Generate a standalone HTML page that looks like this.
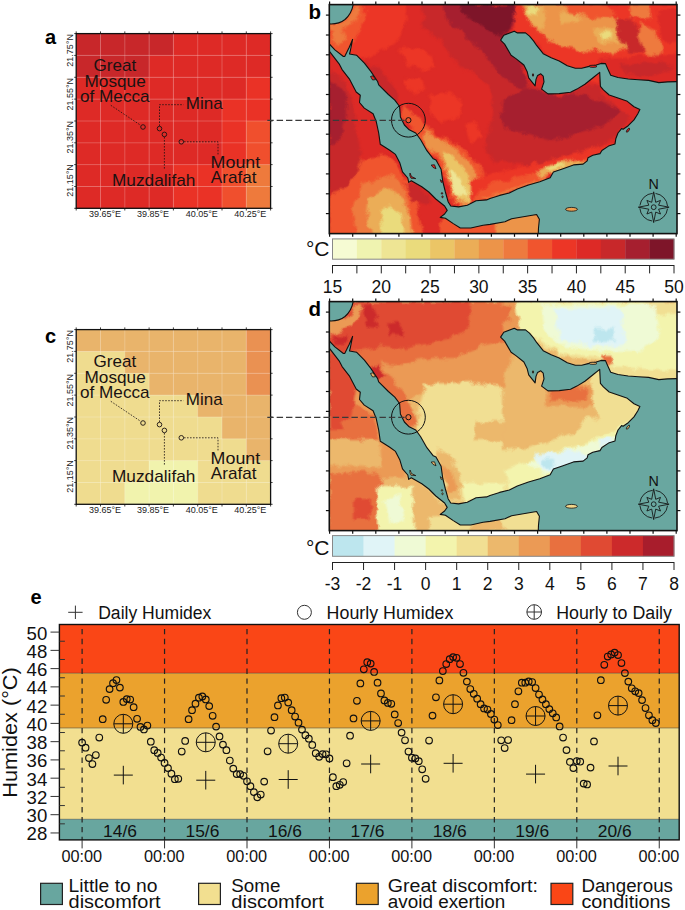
<!DOCTYPE html><html><head><meta charset="utf-8"><style>html,body{margin:0;padding:0;background:#fff;}svg{display:block;font-family:"Liberation Sans", sans-serif;}</style></head><body>
<svg width="685" height="910" viewBox="0 0 685 910">
<defs><filter id="blur1" x="-5%" y="-5%" width="110%" height="110%" color-interpolation-filters="sRGB"><feTurbulence type="fractalNoise" baseFrequency="0.09" numOctaves="3" seed="7" result="n"/><feGaussianBlur in="SourceGraphic" stdDeviation="1.3" result="b"/><feDisplacementMap in="b" in2="n" scale="9" xChannelSelector="R" yChannelSelector="G"/></filter></defs>
<rect width="685" height="910" fill="#fff"/>
<rect x="76.20" y="33.60" width="24.60" height="22.14" fill="#c8272a"/>
<rect x="100.50" y="33.60" width="24.60" height="22.14" fill="#c8272a"/>
<rect x="124.80" y="33.60" width="24.60" height="22.14" fill="#c8272a"/>
<rect x="149.10" y="33.60" width="24.60" height="22.14" fill="#c8272a"/>
<rect x="173.40" y="33.60" width="24.60" height="22.14" fill="#de2a26"/>
<rect x="197.70" y="33.60" width="24.60" height="22.14" fill="#de2a26"/>
<rect x="222.00" y="33.60" width="24.60" height="22.14" fill="#de2a26"/>
<rect x="246.30" y="33.60" width="24.60" height="22.14" fill="#de2a26"/>
<rect x="76.20" y="55.44" width="24.60" height="22.14" fill="#c8272a"/>
<rect x="100.50" y="55.44" width="24.60" height="22.14" fill="#c8272a"/>
<rect x="124.80" y="55.44" width="24.60" height="22.14" fill="#c8272a"/>
<rect x="149.10" y="55.44" width="24.60" height="22.14" fill="#de2a26"/>
<rect x="173.40" y="55.44" width="24.60" height="22.14" fill="#de2a26"/>
<rect x="197.70" y="55.44" width="24.60" height="22.14" fill="#de2a26"/>
<rect x="222.00" y="55.44" width="24.60" height="22.14" fill="#de2a26"/>
<rect x="246.30" y="55.44" width="24.60" height="22.14" fill="#de2a26"/>
<rect x="76.20" y="77.28" width="24.60" height="22.14" fill="#de2a26"/>
<rect x="100.50" y="77.28" width="24.60" height="22.14" fill="#de2a26"/>
<rect x="124.80" y="77.28" width="24.60" height="22.14" fill="#de2a26"/>
<rect x="149.10" y="77.28" width="24.60" height="22.14" fill="#de2a26"/>
<rect x="173.40" y="77.28" width="24.60" height="22.14" fill="#de2a26"/>
<rect x="197.70" y="77.28" width="24.60" height="22.14" fill="#de2a26"/>
<rect x="222.00" y="77.28" width="24.60" height="22.14" fill="#de2a26"/>
<rect x="246.30" y="77.28" width="24.60" height="22.14" fill="#ea3226"/>
<rect x="76.20" y="99.11" width="24.60" height="22.14" fill="#de2a26"/>
<rect x="100.50" y="99.11" width="24.60" height="22.14" fill="#de2a26"/>
<rect x="124.80" y="99.11" width="24.60" height="22.14" fill="#de2a26"/>
<rect x="149.10" y="99.11" width="24.60" height="22.14" fill="#de2a26"/>
<rect x="173.40" y="99.11" width="24.60" height="22.14" fill="#de2a26"/>
<rect x="197.70" y="99.11" width="24.60" height="22.14" fill="#de2a26"/>
<rect x="222.00" y="99.11" width="24.60" height="22.14" fill="#ea3226"/>
<rect x="246.30" y="99.11" width="24.60" height="22.14" fill="#ea3226"/>
<rect x="76.20" y="120.95" width="24.60" height="22.14" fill="#de2a26"/>
<rect x="100.50" y="120.95" width="24.60" height="22.14" fill="#de2a26"/>
<rect x="124.80" y="120.95" width="24.60" height="22.14" fill="#de2a26"/>
<rect x="149.10" y="120.95" width="24.60" height="22.14" fill="#de2a26"/>
<rect x="173.40" y="120.95" width="24.60" height="22.14" fill="#de2a26"/>
<rect x="197.70" y="120.95" width="24.60" height="22.14" fill="#de2a26"/>
<rect x="222.00" y="120.95" width="24.60" height="22.14" fill="#ea3226"/>
<rect x="246.30" y="120.95" width="24.60" height="22.14" fill="#f04f2d"/>
<rect x="76.20" y="142.79" width="24.60" height="22.14" fill="#de2a26"/>
<rect x="100.50" y="142.79" width="24.60" height="22.14" fill="#de2a26"/>
<rect x="124.80" y="142.79" width="24.60" height="22.14" fill="#de2a26"/>
<rect x="149.10" y="142.79" width="24.60" height="22.14" fill="#de2a26"/>
<rect x="173.40" y="142.79" width="24.60" height="22.14" fill="#de2a26"/>
<rect x="197.70" y="142.79" width="24.60" height="22.14" fill="#de2a26"/>
<rect x="222.00" y="142.79" width="24.60" height="22.14" fill="#ea3226"/>
<rect x="246.30" y="142.79" width="24.60" height="22.14" fill="#f04f2d"/>
<rect x="76.20" y="164.62" width="24.60" height="22.14" fill="#de2a26"/>
<rect x="100.50" y="164.62" width="24.60" height="22.14" fill="#de2a26"/>
<rect x="124.80" y="164.62" width="24.60" height="22.14" fill="#de2a26"/>
<rect x="149.10" y="164.62" width="24.60" height="22.14" fill="#de2a26"/>
<rect x="173.40" y="164.62" width="24.60" height="22.14" fill="#ea3226"/>
<rect x="197.70" y="164.62" width="24.60" height="22.14" fill="#ea3226"/>
<rect x="222.00" y="164.62" width="24.60" height="22.14" fill="#f04f2d"/>
<rect x="246.30" y="164.62" width="24.60" height="22.14" fill="#ee7a3c"/>
<rect x="76.20" y="186.46" width="24.60" height="22.14" fill="#de2a26"/>
<rect x="100.50" y="186.46" width="24.60" height="22.14" fill="#de2a26"/>
<rect x="124.80" y="186.46" width="24.60" height="22.14" fill="#de2a26"/>
<rect x="149.10" y="186.46" width="24.60" height="22.14" fill="#de2a26"/>
<rect x="173.40" y="186.46" width="24.60" height="22.14" fill="#ea3226"/>
<rect x="197.70" y="186.46" width="24.60" height="22.14" fill="#ea3226"/>
<rect x="222.00" y="186.46" width="24.60" height="22.14" fill="#f04f2d"/>
<rect x="246.30" y="186.46" width="24.60" height="22.14" fill="#ee7a3c"/>
<line x1="100.5" y1="33.6" x2="100.5" y2="208.3" stroke="#fff" stroke-opacity="0.28" stroke-width="0.8"/>
<line x1="76.2" y1="55.4" x2="270.6" y2="55.4" stroke="#fff" stroke-opacity="0.28" stroke-width="0.8"/>
<line x1="124.8" y1="33.6" x2="124.8" y2="208.3" stroke="#fff" stroke-opacity="0.28" stroke-width="0.8"/>
<line x1="76.2" y1="77.3" x2="270.6" y2="77.3" stroke="#fff" stroke-opacity="0.28" stroke-width="0.8"/>
<line x1="149.1" y1="33.6" x2="149.1" y2="208.3" stroke="#fff" stroke-opacity="0.28" stroke-width="0.8"/>
<line x1="76.2" y1="99.1" x2="270.6" y2="99.1" stroke="#fff" stroke-opacity="0.28" stroke-width="0.8"/>
<line x1="173.4" y1="33.6" x2="173.4" y2="208.3" stroke="#fff" stroke-opacity="0.28" stroke-width="0.8"/>
<line x1="76.2" y1="121.0" x2="270.6" y2="121.0" stroke="#fff" stroke-opacity="0.28" stroke-width="0.8"/>
<line x1="197.7" y1="33.6" x2="197.7" y2="208.3" stroke="#fff" stroke-opacity="0.28" stroke-width="0.8"/>
<line x1="76.2" y1="142.8" x2="270.6" y2="142.8" stroke="#fff" stroke-opacity="0.28" stroke-width="0.8"/>
<line x1="222.0" y1="33.6" x2="222.0" y2="208.3" stroke="#fff" stroke-opacity="0.28" stroke-width="0.8"/>
<line x1="76.2" y1="164.6" x2="270.6" y2="164.6" stroke="#fff" stroke-opacity="0.28" stroke-width="0.8"/>
<line x1="246.3" y1="33.6" x2="246.3" y2="208.3" stroke="#fff" stroke-opacity="0.28" stroke-width="0.8"/>
<line x1="76.2" y1="186.5" x2="270.6" y2="186.5" stroke="#fff" stroke-opacity="0.28" stroke-width="0.8"/>
<rect x="76.2" y="33.6" width="194.40000000000003" height="174.70000000000002" fill="none" stroke="#111" stroke-width="1.3"/>
<line x1="76.2" y1="31.400000000000002" x2="76.2" y2="33.6" stroke="#111" stroke-width="0.8"/>
<line x1="76.2" y1="208.3" x2="76.2" y2="210.5" stroke="#111" stroke-width="0.8"/>
<line x1="74.2" y1="33.6" x2="76.2" y2="33.6" stroke="#111" stroke-width="0.8"/>
<line x1="270.6" y1="33.6" x2="272.6" y2="33.6" stroke="#111" stroke-width="0.8"/>
<line x1="100.5" y1="31.400000000000002" x2="100.5" y2="33.6" stroke="#111" stroke-width="0.8"/>
<line x1="100.5" y1="208.3" x2="100.5" y2="210.5" stroke="#111" stroke-width="0.8"/>
<line x1="74.2" y1="55.4" x2="76.2" y2="55.4" stroke="#111" stroke-width="0.8"/>
<line x1="270.6" y1="55.4" x2="272.6" y2="55.4" stroke="#111" stroke-width="0.8"/>
<line x1="124.8" y1="31.400000000000002" x2="124.8" y2="33.6" stroke="#111" stroke-width="0.8"/>
<line x1="124.8" y1="208.3" x2="124.8" y2="210.5" stroke="#111" stroke-width="0.8"/>
<line x1="74.2" y1="77.3" x2="76.2" y2="77.3" stroke="#111" stroke-width="0.8"/>
<line x1="270.6" y1="77.3" x2="272.6" y2="77.3" stroke="#111" stroke-width="0.8"/>
<line x1="149.1" y1="31.400000000000002" x2="149.1" y2="33.6" stroke="#111" stroke-width="0.8"/>
<line x1="149.1" y1="208.3" x2="149.1" y2="210.5" stroke="#111" stroke-width="0.8"/>
<line x1="74.2" y1="99.1" x2="76.2" y2="99.1" stroke="#111" stroke-width="0.8"/>
<line x1="270.6" y1="99.1" x2="272.6" y2="99.1" stroke="#111" stroke-width="0.8"/>
<line x1="173.4" y1="31.400000000000002" x2="173.4" y2="33.6" stroke="#111" stroke-width="0.8"/>
<line x1="173.4" y1="208.3" x2="173.4" y2="210.5" stroke="#111" stroke-width="0.8"/>
<line x1="74.2" y1="121.0" x2="76.2" y2="121.0" stroke="#111" stroke-width="0.8"/>
<line x1="270.6" y1="121.0" x2="272.6" y2="121.0" stroke="#111" stroke-width="0.8"/>
<line x1="197.7" y1="31.400000000000002" x2="197.7" y2="33.6" stroke="#111" stroke-width="0.8"/>
<line x1="197.7" y1="208.3" x2="197.7" y2="210.5" stroke="#111" stroke-width="0.8"/>
<line x1="74.2" y1="142.8" x2="76.2" y2="142.8" stroke="#111" stroke-width="0.8"/>
<line x1="270.6" y1="142.8" x2="272.6" y2="142.8" stroke="#111" stroke-width="0.8"/>
<line x1="222.0" y1="31.400000000000002" x2="222.0" y2="33.6" stroke="#111" stroke-width="0.8"/>
<line x1="222.0" y1="208.3" x2="222.0" y2="210.5" stroke="#111" stroke-width="0.8"/>
<line x1="74.2" y1="164.6" x2="76.2" y2="164.6" stroke="#111" stroke-width="0.8"/>
<line x1="270.6" y1="164.6" x2="272.6" y2="164.6" stroke="#111" stroke-width="0.8"/>
<line x1="246.3" y1="31.400000000000002" x2="246.3" y2="33.6" stroke="#111" stroke-width="0.8"/>
<line x1="246.3" y1="208.3" x2="246.3" y2="210.5" stroke="#111" stroke-width="0.8"/>
<line x1="74.2" y1="186.5" x2="76.2" y2="186.5" stroke="#111" stroke-width="0.8"/>
<line x1="270.6" y1="186.5" x2="272.6" y2="186.5" stroke="#111" stroke-width="0.8"/>
<line x1="270.6" y1="31.400000000000002" x2="270.6" y2="33.6" stroke="#111" stroke-width="0.8"/>
<line x1="270.6" y1="208.3" x2="270.6" y2="210.5" stroke="#111" stroke-width="0.8"/>
<line x1="74.2" y1="208.3" x2="76.2" y2="208.3" stroke="#111" stroke-width="0.8"/>
<line x1="270.6" y1="208.3" x2="272.6" y2="208.3" stroke="#111" stroke-width="0.8"/>
<text x="105" y="217.2" font-size="9" text-anchor="middle" fill="#222">39.65°E</text>
<text x="153" y="217.2" font-size="9" text-anchor="middle" fill="#222">39.85°E</text>
<text x="201.8" y="217.2" font-size="9" text-anchor="middle" fill="#222">40.05°E</text>
<text x="250.2" y="217.2" font-size="9" text-anchor="middle" fill="#222">40.25°E</text>
<text transform="translate(72.6,50.4) rotate(-90)" font-size="9" text-anchor="middle" fill="#222">21.75°N</text>
<text transform="translate(72.6,94.2) rotate(-90)" font-size="9" text-anchor="middle" fill="#222">21.55°N</text>
<text transform="translate(72.6,137.3) rotate(-90)" font-size="9" text-anchor="middle" fill="#222">21.35°N</text>
<text transform="translate(72.6,180.5) rotate(-90)" font-size="9" text-anchor="middle" fill="#222">21.15°N</text>
<text x="93.4" y="71.4" textLength="42.8" font-size="16.2" fill="#1a1212" lengthAdjust="spacingAndGlyphs">Great</text>
<text x="84.5" y="86.6" textLength="61.2" font-size="16.2" fill="#1a1212" lengthAdjust="spacingAndGlyphs">Mosque</text>
<text x="80.0" y="101.6" textLength="69.6" font-size="16.2" fill="#1a1212" lengthAdjust="spacingAndGlyphs">of Mecca</text>
<text x="185.8" y="109.4" textLength="36.8" font-size="16.2" fill="#1a1212" lengthAdjust="spacingAndGlyphs">Mina</text>
<text x="112.0" y="185.9" textLength="83.4" font-size="16.2" fill="#1a1212" lengthAdjust="spacingAndGlyphs">Muzdalifah</text>
<text x="210.6" y="167.5" textLength="49.6" font-size="16.2" fill="#1a1212" lengthAdjust="spacingAndGlyphs">Mount</text>
<text x="210.8" y="182.8" textLength="45.6" font-size="16.2" fill="#1a1212" lengthAdjust="spacingAndGlyphs">Arafat</text>
<path d="M110.8,105.3 L140.5,125.2" stroke="#1a1212" stroke-width="0.8" stroke-dasharray="1.6 1.4" fill="none"/>
<path d="M159.5,126 L159.5,104.7 L183.4,104.7" stroke="#1a1212" stroke-width="0.8" stroke-dasharray="1.6 1.4" fill="none"/>
<path d="M164.4,137 L164.4,169" stroke="#1a1212" stroke-width="0.8" stroke-dasharray="1.6 1.4" fill="none"/>
<path d="M184,141.8 L218,141.8 L218,155.2" stroke="#1a1212" stroke-width="0.8" stroke-dasharray="1.6 1.4" fill="none"/>
<circle cx="143" cy="127" r="2.3" fill="none" stroke="#1a1212" stroke-width="0.9"/>
<circle cx="159.5" cy="128.6" r="2.3" fill="none" stroke="#1a1212" stroke-width="0.9"/>
<circle cx="164.4" cy="134.4" r="2.3" fill="none" stroke="#1a1212" stroke-width="0.9"/>
<circle cx="181.3" cy="141.8" r="2.3" fill="none" stroke="#1a1212" stroke-width="0.9"/>
<text x="45" y="43.7" font-size="20" font-weight="bold" fill="#000">a</text>
<rect x="76.20" y="329.60" width="24.60" height="22.14" fill="#e9b46b"/>
<rect x="100.50" y="329.60" width="24.60" height="22.14" fill="#e9b46b"/>
<rect x="124.80" y="329.60" width="24.60" height="22.14" fill="#e9b46b"/>
<rect x="149.10" y="329.60" width="24.60" height="22.14" fill="#e9b46b"/>
<rect x="173.40" y="329.60" width="24.60" height="22.14" fill="#e9b46b"/>
<rect x="197.70" y="329.60" width="24.60" height="22.14" fill="#e9b46b"/>
<rect x="222.00" y="329.60" width="24.60" height="22.14" fill="#e9b46b"/>
<rect x="246.30" y="329.60" width="24.60" height="22.14" fill="#ea9152"/>
<rect x="76.20" y="351.44" width="24.60" height="22.14" fill="#efdc8f"/>
<rect x="100.50" y="351.44" width="24.60" height="22.14" fill="#efdc8f"/>
<rect x="124.80" y="351.44" width="24.60" height="22.14" fill="#e9b46b"/>
<rect x="149.10" y="351.44" width="24.60" height="22.14" fill="#e9b46b"/>
<rect x="173.40" y="351.44" width="24.60" height="22.14" fill="#e9b46b"/>
<rect x="197.70" y="351.44" width="24.60" height="22.14" fill="#e9b46b"/>
<rect x="222.00" y="351.44" width="24.60" height="22.14" fill="#e9b46b"/>
<rect x="246.30" y="351.44" width="24.60" height="22.14" fill="#ea9152"/>
<rect x="76.20" y="373.28" width="24.60" height="22.14" fill="#efdc8f"/>
<rect x="100.50" y="373.28" width="24.60" height="22.14" fill="#efdc8f"/>
<rect x="124.80" y="373.28" width="24.60" height="22.14" fill="#efdc8f"/>
<rect x="149.10" y="373.28" width="24.60" height="22.14" fill="#e9b46b"/>
<rect x="173.40" y="373.28" width="24.60" height="22.14" fill="#e9b46b"/>
<rect x="197.70" y="373.28" width="24.60" height="22.14" fill="#e9b46b"/>
<rect x="222.00" y="373.28" width="24.60" height="22.14" fill="#e9b46b"/>
<rect x="246.30" y="373.28" width="24.60" height="22.14" fill="#ea9152"/>
<rect x="76.20" y="395.11" width="24.60" height="22.14" fill="#efdc8f"/>
<rect x="100.50" y="395.11" width="24.60" height="22.14" fill="#efdc8f"/>
<rect x="124.80" y="395.11" width="24.60" height="22.14" fill="#efdc8f"/>
<rect x="149.10" y="395.11" width="24.60" height="22.14" fill="#efdc8f"/>
<rect x="173.40" y="395.11" width="24.60" height="22.14" fill="#efdc8f"/>
<rect x="197.70" y="395.11" width="24.60" height="22.14" fill="#e9b46b"/>
<rect x="222.00" y="395.11" width="24.60" height="22.14" fill="#e9b46b"/>
<rect x="246.30" y="395.11" width="24.60" height="22.14" fill="#e9b46b"/>
<rect x="76.20" y="416.95" width="24.60" height="22.14" fill="#efdc8f"/>
<rect x="100.50" y="416.95" width="24.60" height="22.14" fill="#efdc8f"/>
<rect x="124.80" y="416.95" width="24.60" height="22.14" fill="#efdc8f"/>
<rect x="149.10" y="416.95" width="24.60" height="22.14" fill="#efdc8f"/>
<rect x="173.40" y="416.95" width="24.60" height="22.14" fill="#efdc8f"/>
<rect x="197.70" y="416.95" width="24.60" height="22.14" fill="#efdc8f"/>
<rect x="222.00" y="416.95" width="24.60" height="22.14" fill="#e9b46b"/>
<rect x="246.30" y="416.95" width="24.60" height="22.14" fill="#e9b46b"/>
<rect x="76.20" y="438.79" width="24.60" height="22.14" fill="#efdc8f"/>
<rect x="100.50" y="438.79" width="24.60" height="22.14" fill="#efdc8f"/>
<rect x="124.80" y="438.79" width="24.60" height="22.14" fill="#efdc8f"/>
<rect x="149.10" y="438.79" width="24.60" height="22.14" fill="#efdc8f"/>
<rect x="173.40" y="438.79" width="24.60" height="22.14" fill="#efdc8f"/>
<rect x="197.70" y="438.79" width="24.60" height="22.14" fill="#efdc8f"/>
<rect x="222.00" y="438.79" width="24.60" height="22.14" fill="#efdc8f"/>
<rect x="246.30" y="438.79" width="24.60" height="22.14" fill="#e9b46b"/>
<rect x="76.20" y="460.62" width="24.60" height="22.14" fill="#efdc8f"/>
<rect x="100.50" y="460.62" width="24.60" height="22.14" fill="#efdc8f"/>
<rect x="124.80" y="460.62" width="24.60" height="22.14" fill="#efdc8f"/>
<rect x="149.10" y="460.62" width="24.60" height="22.14" fill="#f1f3ad"/>
<rect x="173.40" y="460.62" width="24.60" height="22.14" fill="#f1f3ad"/>
<rect x="197.70" y="460.62" width="24.60" height="22.14" fill="#efdc8f"/>
<rect x="222.00" y="460.62" width="24.60" height="22.14" fill="#efdc8f"/>
<rect x="246.30" y="460.62" width="24.60" height="22.14" fill="#efdc8f"/>
<rect x="76.20" y="482.46" width="24.60" height="22.14" fill="#efdc8f"/>
<rect x="100.50" y="482.46" width="24.60" height="22.14" fill="#efdc8f"/>
<rect x="124.80" y="482.46" width="24.60" height="22.14" fill="#f1f3ad"/>
<rect x="149.10" y="482.46" width="24.60" height="22.14" fill="#f1f3ad"/>
<rect x="173.40" y="482.46" width="24.60" height="22.14" fill="#f1f3ad"/>
<rect x="197.70" y="482.46" width="24.60" height="22.14" fill="#efdc8f"/>
<rect x="222.00" y="482.46" width="24.60" height="22.14" fill="#efdc8f"/>
<rect x="246.30" y="482.46" width="24.60" height="22.14" fill="#efdc8f"/>
<line x1="100.5" y1="329.6" x2="100.5" y2="504.3" stroke="#fff" stroke-opacity="0.28" stroke-width="0.8"/>
<line x1="76.2" y1="351.4" x2="270.6" y2="351.4" stroke="#fff" stroke-opacity="0.28" stroke-width="0.8"/>
<line x1="124.8" y1="329.6" x2="124.8" y2="504.3" stroke="#fff" stroke-opacity="0.28" stroke-width="0.8"/>
<line x1="76.2" y1="373.3" x2="270.6" y2="373.3" stroke="#fff" stroke-opacity="0.28" stroke-width="0.8"/>
<line x1="149.1" y1="329.6" x2="149.1" y2="504.3" stroke="#fff" stroke-opacity="0.28" stroke-width="0.8"/>
<line x1="76.2" y1="395.1" x2="270.6" y2="395.1" stroke="#fff" stroke-opacity="0.28" stroke-width="0.8"/>
<line x1="173.4" y1="329.6" x2="173.4" y2="504.3" stroke="#fff" stroke-opacity="0.28" stroke-width="0.8"/>
<line x1="76.2" y1="417.0" x2="270.6" y2="417.0" stroke="#fff" stroke-opacity="0.28" stroke-width="0.8"/>
<line x1="197.7" y1="329.6" x2="197.7" y2="504.3" stroke="#fff" stroke-opacity="0.28" stroke-width="0.8"/>
<line x1="76.2" y1="438.8" x2="270.6" y2="438.8" stroke="#fff" stroke-opacity="0.28" stroke-width="0.8"/>
<line x1="222.0" y1="329.6" x2="222.0" y2="504.3" stroke="#fff" stroke-opacity="0.28" stroke-width="0.8"/>
<line x1="76.2" y1="460.6" x2="270.6" y2="460.6" stroke="#fff" stroke-opacity="0.28" stroke-width="0.8"/>
<line x1="246.3" y1="329.6" x2="246.3" y2="504.3" stroke="#fff" stroke-opacity="0.28" stroke-width="0.8"/>
<line x1="76.2" y1="482.5" x2="270.6" y2="482.5" stroke="#fff" stroke-opacity="0.28" stroke-width="0.8"/>
<rect x="76.2" y="329.6" width="194.40000000000003" height="174.70000000000002" fill="none" stroke="#111" stroke-width="1.3"/>
<line x1="76.2" y1="327.40000000000003" x2="76.2" y2="329.6" stroke="#111" stroke-width="0.8"/>
<line x1="76.2" y1="504.30000000000007" x2="76.2" y2="506.50000000000006" stroke="#111" stroke-width="0.8"/>
<line x1="74.2" y1="329.6" x2="76.2" y2="329.6" stroke="#111" stroke-width="0.8"/>
<line x1="270.6" y1="329.6" x2="272.6" y2="329.6" stroke="#111" stroke-width="0.8"/>
<line x1="100.5" y1="327.40000000000003" x2="100.5" y2="329.6" stroke="#111" stroke-width="0.8"/>
<line x1="100.5" y1="504.30000000000007" x2="100.5" y2="506.50000000000006" stroke="#111" stroke-width="0.8"/>
<line x1="74.2" y1="351.4" x2="76.2" y2="351.4" stroke="#111" stroke-width="0.8"/>
<line x1="270.6" y1="351.4" x2="272.6" y2="351.4" stroke="#111" stroke-width="0.8"/>
<line x1="124.8" y1="327.40000000000003" x2="124.8" y2="329.6" stroke="#111" stroke-width="0.8"/>
<line x1="124.8" y1="504.30000000000007" x2="124.8" y2="506.50000000000006" stroke="#111" stroke-width="0.8"/>
<line x1="74.2" y1="373.3" x2="76.2" y2="373.3" stroke="#111" stroke-width="0.8"/>
<line x1="270.6" y1="373.3" x2="272.6" y2="373.3" stroke="#111" stroke-width="0.8"/>
<line x1="149.1" y1="327.40000000000003" x2="149.1" y2="329.6" stroke="#111" stroke-width="0.8"/>
<line x1="149.1" y1="504.30000000000007" x2="149.1" y2="506.50000000000006" stroke="#111" stroke-width="0.8"/>
<line x1="74.2" y1="395.1" x2="76.2" y2="395.1" stroke="#111" stroke-width="0.8"/>
<line x1="270.6" y1="395.1" x2="272.6" y2="395.1" stroke="#111" stroke-width="0.8"/>
<line x1="173.4" y1="327.40000000000003" x2="173.4" y2="329.6" stroke="#111" stroke-width="0.8"/>
<line x1="173.4" y1="504.30000000000007" x2="173.4" y2="506.50000000000006" stroke="#111" stroke-width="0.8"/>
<line x1="74.2" y1="417.0" x2="76.2" y2="417.0" stroke="#111" stroke-width="0.8"/>
<line x1="270.6" y1="417.0" x2="272.6" y2="417.0" stroke="#111" stroke-width="0.8"/>
<line x1="197.7" y1="327.40000000000003" x2="197.7" y2="329.6" stroke="#111" stroke-width="0.8"/>
<line x1="197.7" y1="504.30000000000007" x2="197.7" y2="506.50000000000006" stroke="#111" stroke-width="0.8"/>
<line x1="74.2" y1="438.8" x2="76.2" y2="438.8" stroke="#111" stroke-width="0.8"/>
<line x1="270.6" y1="438.8" x2="272.6" y2="438.8" stroke="#111" stroke-width="0.8"/>
<line x1="222.0" y1="327.40000000000003" x2="222.0" y2="329.6" stroke="#111" stroke-width="0.8"/>
<line x1="222.0" y1="504.30000000000007" x2="222.0" y2="506.50000000000006" stroke="#111" stroke-width="0.8"/>
<line x1="74.2" y1="460.6" x2="76.2" y2="460.6" stroke="#111" stroke-width="0.8"/>
<line x1="270.6" y1="460.6" x2="272.6" y2="460.6" stroke="#111" stroke-width="0.8"/>
<line x1="246.3" y1="327.40000000000003" x2="246.3" y2="329.6" stroke="#111" stroke-width="0.8"/>
<line x1="246.3" y1="504.30000000000007" x2="246.3" y2="506.50000000000006" stroke="#111" stroke-width="0.8"/>
<line x1="74.2" y1="482.5" x2="76.2" y2="482.5" stroke="#111" stroke-width="0.8"/>
<line x1="270.6" y1="482.5" x2="272.6" y2="482.5" stroke="#111" stroke-width="0.8"/>
<line x1="270.6" y1="327.40000000000003" x2="270.6" y2="329.6" stroke="#111" stroke-width="0.8"/>
<line x1="270.6" y1="504.30000000000007" x2="270.6" y2="506.50000000000006" stroke="#111" stroke-width="0.8"/>
<line x1="74.2" y1="504.3" x2="76.2" y2="504.3" stroke="#111" stroke-width="0.8"/>
<line x1="270.6" y1="504.3" x2="272.6" y2="504.3" stroke="#111" stroke-width="0.8"/>
<text x="105" y="513.2" font-size="9" text-anchor="middle" fill="#222">39.65°E</text>
<text x="153" y="513.2" font-size="9" text-anchor="middle" fill="#222">39.85°E</text>
<text x="201.8" y="513.2" font-size="9" text-anchor="middle" fill="#222">40.05°E</text>
<text x="250.2" y="513.2" font-size="9" text-anchor="middle" fill="#222">40.25°E</text>
<text transform="translate(72.6,346.4) rotate(-90)" font-size="9" text-anchor="middle" fill="#222">21.75°N</text>
<text transform="translate(72.6,390.2) rotate(-90)" font-size="9" text-anchor="middle" fill="#222">21.55°N</text>
<text transform="translate(72.6,433.3) rotate(-90)" font-size="9" text-anchor="middle" fill="#222">21.35°N</text>
<text transform="translate(72.6,476.5) rotate(-90)" font-size="9" text-anchor="middle" fill="#222">21.15°N</text>
<text x="93.4" y="367.4" textLength="42.8" font-size="16.2" fill="#1a1212" lengthAdjust="spacingAndGlyphs">Great</text>
<text x="84.5" y="382.6" textLength="61.2" font-size="16.2" fill="#1a1212" lengthAdjust="spacingAndGlyphs">Mosque</text>
<text x="80.0" y="397.6" textLength="69.6" font-size="16.2" fill="#1a1212" lengthAdjust="spacingAndGlyphs">of Mecca</text>
<text x="185.8" y="405.4" textLength="36.8" font-size="16.2" fill="#1a1212" lengthAdjust="spacingAndGlyphs">Mina</text>
<text x="112.0" y="481.9" textLength="83.4" font-size="16.2" fill="#1a1212" lengthAdjust="spacingAndGlyphs">Muzdalifah</text>
<text x="210.6" y="463.5" textLength="49.6" font-size="16.2" fill="#1a1212" lengthAdjust="spacingAndGlyphs">Mount</text>
<text x="210.8" y="478.8" textLength="45.6" font-size="16.2" fill="#1a1212" lengthAdjust="spacingAndGlyphs">Arafat</text>
<path d="M110.8,401.3 L140.5,421.2" stroke="#1a1212" stroke-width="0.8" stroke-dasharray="1.6 1.4" fill="none"/>
<path d="M159.5,422 L159.5,400.7 L183.4,400.7" stroke="#1a1212" stroke-width="0.8" stroke-dasharray="1.6 1.4" fill="none"/>
<path d="M164.4,433 L164.4,465" stroke="#1a1212" stroke-width="0.8" stroke-dasharray="1.6 1.4" fill="none"/>
<path d="M184,437.8 L218,437.8 L218,451.2" stroke="#1a1212" stroke-width="0.8" stroke-dasharray="1.6 1.4" fill="none"/>
<circle cx="143" cy="423" r="2.3" fill="none" stroke="#1a1212" stroke-width="0.9"/>
<circle cx="159.5" cy="424.6" r="2.3" fill="none" stroke="#1a1212" stroke-width="0.9"/>
<circle cx="164.4" cy="430.4" r="2.3" fill="none" stroke="#1a1212" stroke-width="0.9"/>
<circle cx="181.3" cy="437.8" r="2.3" fill="none" stroke="#1a1212" stroke-width="0.9"/>
<text x="45" y="342.9" font-size="20" font-weight="bold" fill="#000">c</text>
<clipPath id="clipb"><rect x="329.3" y="4.6" width="347.7" height="229.0"/></clipPath>
<g clip-path="url(#clipb)"><rect x="329.3" y="4.6" width="347.7" height="229.0" fill="#dd2a26"/>
<g filter="url(#blur1)">
<polygon points="329.0,20.0 345.0,18.0 352.0,4.0 405.0,4.0 408.0,20.0 400.0,38.0 385.0,50.0 365.0,58.0 345.0,60.0 329.0,52.0" fill="#ec3626"/>
<polygon points="329.0,24.0 342.0,22.0 350.0,12.0 354.0,4.0 364.0,4.0 366.0,15.0 360.0,30.0 353.0,42.0 346.0,57.0 335.0,52.0 329.0,46.0" fill="#f0552e"/>
<polygon points="333.0,30.0 340.0,27.0 345.0,35.0 340.0,45.0 333.0,42.0" fill="#ee7a3e"/>
<polygon points="329.0,22.0 340.0,23.0 350.0,16.0 355.0,6.0 360.0,6.0 356.0,20.0 345.0,28.0 333.0,31.0 329.0,31.0" fill="#ee7a3e"/>
<polygon points="354.0,6.0 360.0,6.0 360.0,14.0 355.0,18.0" fill="#ee7a3e"/>
<polygon points="398.0,50.0 415.0,48.0 432.0,56.0 436.0,66.0 425.0,70.0 408.0,66.0" fill="#ec3626"/>
<polygon points="430.0,95.0 450.0,92.0 462.0,102.0 458.0,118.0 440.0,122.0 428.0,110.0" fill="#ec3626"/>
<polygon points="405.0,80.0 420.0,78.0 425.0,90.0 412.0,95.0" fill="#ec3626"/>
<polygon points="465.0,125.0 478.0,122.0 482.0,138.0 470.0,142.0" fill="#ec3626"/>
<polygon points="421.0,4.0 423.0,25.0 440.0,40.0 451.0,55.0 460.0,68.0 478.0,76.0 490.0,84.0 494.0,100.0 490.0,125.0 485.0,150.0 495.0,161.0 520.0,164.0 545.0,164.0 570.0,158.0 590.0,150.0 610.0,140.0 625.0,125.0 640.0,110.0 625.0,98.0 610.0,90.0 600.0,85.0 585.0,86.0 560.0,95.0 540.0,92.0 530.0,80.0 520.0,62.0 505.0,45.0 500.0,38.0 512.0,30.0 520.0,20.0 520.0,4.0" fill="#c8282a"/>
<polygon points="362.0,62.0 376.0,66.0 390.0,82.0 398.0,98.0 392.0,102.0 382.0,92.0 368.0,78.0" fill="#c8282a"/>
<polygon points="441.0,4.0 449.0,20.0 461.0,31.0 472.0,41.0 482.0,51.0 488.0,61.0 498.0,72.0 510.0,82.0 522.0,90.0 530.0,88.0 528.0,75.0 518.0,60.0 505.0,45.0 500.0,38.0 510.0,32.0 520.0,22.0 520.0,4.0" fill="#a61f2f"/>
<polygon points="501.0,118.0 503.0,100.0 515.0,92.0 530.0,89.0 551.0,94.0 577.0,95.0 600.0,101.0 621.0,110.0 612.0,119.0 603.0,127.0 571.0,135.0 551.0,141.0 528.0,135.0 504.0,127.0" fill="#a61f2f"/>
<polygon points="461.0,4.0 514.0,4.0 513.0,20.0 511.0,31.0 503.0,35.0 498.0,34.0 486.0,29.0 472.0,20.0 461.0,12.0" fill="#7e1529"/>
<polygon points="515.0,4.0 680.0,4.0 680.0,84.0 600.0,84.0 560.0,66.0 530.0,38.0 515.0,30.0" fill="#ec3626"/>
<polygon points="521.0,4.0 565.0,4.0 600.0,12.0 616.0,18.0 625.0,30.0 628.0,50.0 610.0,53.0 582.0,51.0 562.0,47.0 547.0,39.0 532.0,26.0" fill="#ec9449"/>
<polygon points="523.0,4.0 543.0,4.0 546.0,20.0 540.0,29.0 530.0,22.0" fill="#ebad57"/>
<polygon points="558.0,13.0 578.0,12.0 580.0,22.0 562.0,23.0" fill="#ebad57"/>
<polygon points="594.0,28.0 616.0,28.0 619.0,43.0 597.0,43.0" fill="#ebad57"/>
<polygon points="527.0,6.0 538.0,6.0 537.0,16.0 529.0,14.0" fill="#eadb7c"/>
<polygon points="600.0,31.0 612.0,32.0 611.0,40.0 602.0,39.0" fill="#eadb7c"/>
<polygon points="560.0,4.0 605.0,4.0 615.0,12.0 612.0,19.0 590.0,17.0 570.0,11.0" fill="#f0552e"/>
<polygon points="616.0,18.0 630.0,18.0 645.0,40.0 642.0,53.0 630.0,53.0 620.0,40.0" fill="#c8282a"/>
<polygon points="629.0,4.0 650.0,4.0 650.0,19.0 632.0,19.0" fill="#ee7a3e"/>
<polygon points="640.0,23.0 655.0,30.0 662.0,50.0 660.0,57.0 645.0,53.0 638.0,35.0" fill="#ee7a3e"/>
<polygon points="656.0,9.0 680.0,9.0 680.0,42.0 662.0,42.0" fill="#dd2a26"/>
<polygon points="600.0,58.0 640.0,56.0 680.0,55.0 680.0,84.0 600.0,84.0" fill="#dd2a26"/>
<polygon points="618.0,64.0 660.0,62.0 676.0,68.0 652.0,76.0 626.0,74.0" fill="#c8282a"/>
<polygon points="600.0,86.0 620.0,96.0 640.0,108.0 634.0,120.0 622.0,112.0 610.0,101.0 602.0,95.0" fill="#dd2a26"/>
<polygon points="404.0,105.0 417.0,116.0 432.0,130.0 447.0,140.0 464.0,150.0 480.0,165.0 487.0,185.0 490.0,200.0 462.0,208.0 453.0,200.0 446.0,180.0 436.0,160.0 424.0,145.0 411.0,132.0 403.0,118.0" fill="#f0552e"/>
<polygon points="425.0,130.0 441.0,140.0 457.0,150.0 473.0,165.0 481.0,185.0 483.0,200.0 461.0,206.0 452.0,190.0 446.0,170.0 436.0,153.0 425.0,143.0" fill="#ec9449"/>
<polygon points="442.0,150.0 458.0,160.0 470.0,178.0 474.0,200.0 458.0,202.0 451.0,185.0 446.0,168.0" fill="#ebc566"/>
<polygon points="449.0,170.0 462.0,178.0 468.0,196.0 456.0,197.0 451.0,185.0" fill="#eee594"/>
<polygon points="470.0,180.0 495.0,172.0 520.0,167.0 540.0,163.0 560.0,158.0 585.0,150.0 600.0,146.0 612.0,143.0 615.0,152.0 590.0,162.0 560.0,172.0 530.0,184.0 500.0,196.0 470.0,208.0" fill="#ec3626"/>
<polygon points="478.0,190.0 500.0,182.0 522.0,176.0 540.0,172.0 555.0,168.0 575.0,162.0 590.0,158.0 592.0,165.0 560.0,172.0 530.0,184.0 500.0,196.0 470.0,208.0" fill="#f0552e"/>
<polygon points="480.0,198.0 505.0,190.0 528.0,183.0 548.0,176.0 548.0,181.0 522.0,188.0 492.0,199.0" fill="#ee7a3e"/>
<polygon points="536.0,170.0 558.0,163.0 586.0,158.0 584.0,165.0 555.0,172.0 540.0,178.0" fill="#ebad57"/>
<polygon points="545.0,168.0 560.0,163.0 565.0,167.0 550.0,172.0" fill="#eadb7c"/>
<polygon points="329.0,180.0 360.0,160.0 385.0,155.0 400.0,170.0 408.0,182.0 415.0,200.0 425.0,240.0 329.0,240.0" fill="#f0552e"/>
<polygon points="329.0,70.0 345.0,80.0 352.0,100.0 356.0,130.0 362.0,160.0 352.0,180.0 340.0,192.0 329.0,195.0" fill="#c8282a"/>
<polygon points="329.0,80.0 339.0,86.0 346.0,97.0 346.0,115.0 342.0,134.0 336.0,144.0 329.0,146.0" fill="#a61f2f"/>
<polygon points="362.0,185.0 385.0,175.0 400.0,180.0 408.0,200.0 414.0,240.0 358.0,240.0 352.0,210.0" fill="#ee7a3e"/>
<polygon points="368.0,198.0 390.0,188.0 404.0,200.0 410.0,220.0 412.0,240.0 372.0,240.0 366.0,215.0" fill="#ebad57"/>
<polygon points="380.0,212.0 392.0,206.0 402.0,216.0 404.0,240.0 384.0,240.0" fill="#eadb7c"/>
<polygon points="405.0,184.0 420.0,186.0 431.0,196.0 428.0,206.0 412.0,202.0" fill="#c8282a"/>
<polygon points="441.0,214.0 540.0,210.0 545.0,240.0 441.0,240.0" fill="#f0552e"/>
<polygon points="495.0,220.0 538.0,214.0 545.0,240.0 495.0,240.0" fill="#ec9449"/>
</g></g>
<g clip-path="url(#clipb)"><g transform="translate(0,0)">
<path d="M329.3,44.0 L334.9,49.9 L343.4,56.5 L344.7,56.5 L349.3,47.3 L352.6,39.4 L350.5,50.0 L349.5,54.0 L356.5,55.2 L364.4,63.1 L371.0,71.6 L377.6,81.5 L378.7,84.8 L388.4,94.5 L394.8,100.1 L399.6,106.5 L400.4,117.0 L404.4,125.0 L409.2,129.8 L415.7,133.0 L420.5,139.5 L426.9,150.7 L433.3,158.8 L436.0,160.0 L441.1,169.3 L442.8,181.5 L445.4,192.0 L448.1,201.7 L450.7,206.0 L458.6,206.9 L467.3,205.2 L476.1,200.8 L486.6,199.9 L490.0,198.6 L499.6,195.4 L509.3,193.0 L517.3,189.0 L528.5,185.0 L539.8,181.7 L550.2,177.7 L553.4,172.1 L562.3,168.9 L573.5,164.9 L583.1,164.1 L587.2,160.9 L588.0,157.7 L592.8,155.3 L600.0,153.6 L601.9,150.5 L608.5,146.1 L615.0,143.9 L615.8,138.8 L618.0,133.0 L621.6,128.6 L623.1,129.3 L628.2,125.7 L634.0,119.9 L637.7,114.0 L639.9,109.6 L634.0,106.7 L626.7,100.9 L618.0,98.0 L609.2,95.0 L603.4,89.9 L600.4,86.3 L599.7,72.4 L593.0,77.8 L584.9,84.3 L576.9,89.1 L570.5,92.3 L559.2,93.6 L548.0,93.9 L541.6,89.1 L544.0,81.8 L543.2,76.2 L540.8,73.8 L537.6,75.4 L536.0,79.4 L535.1,85.9 L528.7,77.8 L527.1,71.4 L523.9,65.0 L515.9,58.6 L511.1,55.3 L504.6,44.1 L500.6,40.1 L503.8,35.3 L514.3,31.2 L517.5,32.9 L525.5,32.9 L529.5,36.1 L533.5,40.9 L536.8,45.7 L543.2,53.7 L551.2,57.8 L559.2,61.0 L567.3,65.8 L575.3,68.2 L581.7,68.2 L588.1,66.6 L596.2,65.0 L601.0,63.4 L605.5,63.6 L607.7,68.8 L610.7,75.3 L618.0,77.5 L628.2,79.0 L638.4,79.7 L648.6,80.4 L658.8,82.6 L667.6,81.9 L680.0,81.6 L680.0,240.0 L538.0,240.0 L538.5,228.0 L539.4,219.2 L536.6,214.5 L511.6,218.7 L505.0,221.8 L490.1,224.4 L483.1,225.3 L470.8,228.0 L460.3,228.0 L453.3,223.6 L445.4,218.3 L440.2,217.4 L444.6,214.0 L447.2,210.4 L444.6,206.0 L435.8,199.0 L428.8,192.0 L421.8,186.8 L411.3,180.7 L408.7,182.4 L407.8,178.0 L402.5,171.9 L399.9,163.1 L395.5,154.4 L389.4,150.0 L380.3,144.3 L378.7,133.0 L376.3,121.8 L373.1,113.8 L364.3,108.1 L359.5,102.5 L360.3,95.3 L356.2,92.0 L349.3,78.8 L342.1,69.6 L339.5,64.4 L329.3,51.2 L320.0,51.2 L320.0,44.0 Z" fill="#69a7a0" stroke="#111" stroke-width="1.1" stroke-linejoin="round"/>
<path d="M320,0 L353.4,0 L353.2,4.6 C352.3,9.5 349.6,15.5 345,19.5 C340.5,23 334.5,24.2 329.3,23.9 L320,23.9 Z" fill="#69a7a0" stroke="#111" stroke-width="1.1"/>
<ellipse cx="571.5" cy="209.3" rx="6" ry="1.9" fill="#f0a050" stroke="#111" stroke-width="0.8"/>
<g fill="#dd2a26" stroke="#111" stroke-width="0.8"><path d="M431.2,165 L434.5,164.8 L436,168.8 L433,167.4 Z"/><path d="M410,173 L411.5,176.5 L415.8,178.6 L411,178.2 L409.8,175.5 Z"/><path d="M440.3,179.6 L442.6,181.8 L441.2,182.4 Z"/><ellipse cx="442" cy="193.4" rx="0.7" ry="0.8"/><ellipse cx="442.5" cy="196.8" rx="0.7" ry="0.9"/><path d="M370.5,76.5 L373,75.8 L375.6,79.6 L372.6,80 Z"/><ellipse cx="593" cy="66.3" rx="4" ry="1.1"/><ellipse cx="628" cy="130.2" rx="0.9" ry="2.4" transform="rotate(35 628 130.2)"/><ellipse cx="533" cy="75" rx="0.6" ry="1.4"/></g>
</g></g>
<circle cx="408.4" cy="120.2" r="16.9" fill="none" stroke="#111" stroke-width="1"/>
<circle cx="408.4" cy="120.2" r="2.6" fill="none" stroke="#111" stroke-width="1"/>
<rect x="329.3" y="4.6" width="347.7" height="229.0" fill="none" stroke="#111" stroke-width="1.6"/>
<g stroke="#111" stroke-width="1.2"><line x1="329.6" y1="1.4" x2="329.6" y2="4.6"/>
<line x1="329.6" y1="233.6" x2="329.6" y2="236.8"/>
<line x1="352.7" y1="1.4" x2="352.7" y2="4.6"/>
<line x1="352.7" y1="233.6" x2="352.7" y2="236.8"/>
<line x1="375.8" y1="1.4" x2="375.8" y2="4.6"/>
<line x1="375.8" y1="233.6" x2="375.8" y2="236.8"/>
<line x1="398.9" y1="1.4" x2="398.9" y2="4.6"/>
<line x1="398.9" y1="233.6" x2="398.9" y2="236.8"/>
<line x1="422.0" y1="1.4" x2="422.0" y2="4.6"/>
<line x1="422.0" y1="233.6" x2="422.0" y2="236.8"/>
<line x1="445.2" y1="1.4" x2="445.2" y2="4.6"/>
<line x1="445.2" y1="233.6" x2="445.2" y2="236.8"/>
<line x1="468.3" y1="1.4" x2="468.3" y2="4.6"/>
<line x1="468.3" y1="233.6" x2="468.3" y2="236.8"/>
<line x1="491.4" y1="1.4" x2="491.4" y2="4.6"/>
<line x1="491.4" y1="233.6" x2="491.4" y2="236.8"/>
<line x1="514.5" y1="1.4" x2="514.5" y2="4.6"/>
<line x1="514.5" y1="233.6" x2="514.5" y2="236.8"/>
<line x1="537.6" y1="1.4" x2="537.6" y2="4.6"/>
<line x1="537.6" y1="233.6" x2="537.6" y2="236.8"/>
<line x1="560.7" y1="1.4" x2="560.7" y2="4.6"/>
<line x1="560.7" y1="233.6" x2="560.7" y2="236.8"/>
<line x1="583.8" y1="1.4" x2="583.8" y2="4.6"/>
<line x1="583.8" y1="233.6" x2="583.8" y2="236.8"/>
<line x1="606.9" y1="1.4" x2="606.9" y2="4.6"/>
<line x1="606.9" y1="233.6" x2="606.9" y2="236.8"/>
<line x1="630.0" y1="1.4" x2="630.0" y2="4.6"/>
<line x1="630.0" y1="233.6" x2="630.0" y2="236.8"/>
<line x1="653.1" y1="1.4" x2="653.1" y2="4.6"/>
<line x1="653.1" y1="233.6" x2="653.1" y2="236.8"/>
<line x1="676.2" y1="1.4" x2="676.2" y2="4.6"/>
<line x1="676.2" y1="233.6" x2="676.2" y2="236.8"/>
<line x1="325.90000000000003" y1="15.1" x2="329.3" y2="15.1"/>
<line x1="677.0" y1="15.1" x2="680.4" y2="15.1"/>
<line x1="325.90000000000003" y1="35.0" x2="329.3" y2="35.0"/>
<line x1="677.0" y1="35.0" x2="680.4" y2="35.0"/>
<line x1="325.90000000000003" y1="54.8" x2="329.3" y2="54.8"/>
<line x1="677.0" y1="54.8" x2="680.4" y2="54.8"/>
<line x1="325.90000000000003" y1="74.7" x2="329.3" y2="74.7"/>
<line x1="677.0" y1="74.7" x2="680.4" y2="74.7"/>
<line x1="325.90000000000003" y1="94.5" x2="329.3" y2="94.5"/>
<line x1="677.0" y1="94.5" x2="680.4" y2="94.5"/>
<line x1="325.90000000000003" y1="114.3" x2="329.3" y2="114.3"/>
<line x1="677.0" y1="114.3" x2="680.4" y2="114.3"/>
<line x1="325.90000000000003" y1="134.2" x2="329.3" y2="134.2"/>
<line x1="677.0" y1="134.2" x2="680.4" y2="134.2"/>
<line x1="325.90000000000003" y1="154.1" x2="329.3" y2="154.1"/>
<line x1="677.0" y1="154.1" x2="680.4" y2="154.1"/>
<line x1="325.90000000000003" y1="173.9" x2="329.3" y2="173.9"/>
<line x1="677.0" y1="173.9" x2="680.4" y2="173.9"/>
<line x1="325.90000000000003" y1="193.8" x2="329.3" y2="193.8"/>
<line x1="677.0" y1="193.8" x2="680.4" y2="193.8"/>
<line x1="325.90000000000003" y1="213.6" x2="329.3" y2="213.6"/>
<line x1="677.0" y1="213.6" x2="680.4" y2="213.6"/></g>
<g stroke="#111" stroke-width="0.85" fill="none">
<circle cx="653.7" cy="207.2" r="13.9" stroke-dasharray="18.83 3" stroke-dashoffset="20.33"/>
<polygon points="653.7,191.8 655.7,202.3 660.5,200.4 658.6,205.2 669.1,207.2 658.6,209.2 660.5,214.0 655.7,212.1 653.7,222.6 651.7,212.1 646.9,214.0 648.8,209.2 638.3,207.2 648.8,205.2 646.9,200.4 651.7,202.3" stroke-linejoin="miter"/>
<circle cx="653.7" cy="207.2" r="2.4"/>
</g>
<text x="653.7" y="188.6" font-size="14.3" text-anchor="middle" fill="#111">N</text>
<text x="308.4" y="19.2" font-size="20.5" font-weight="bold" fill="#000">b</text>
<clipPath id="clipd"><rect x="329.3" y="301.6" width="347.7" height="229.0"/></clipPath>
<g clip-path="url(#clipd)"><rect x="329.3" y="301.6" width="347.7" height="229.0" fill="#ecb86c"/>
<g filter="url(#blur1)">
<polygon points="329.0,301.0 515.0,301.0 515.0,345.0 503.0,386.0 470.0,386.0 430.0,388.0 405.0,402.0 380.0,440.0 329.0,440.0" fill="#eb9a55"/>
<polygon points="329.0,301.0 505.0,301.0 503.0,341.0 481.0,346.0 456.0,358.0 431.0,358.0 405.0,364.0 392.0,366.0 367.0,358.0 355.0,370.0 350.0,400.0 372.0,415.0 380.0,440.0 329.0,440.0" fill="#e8703f"/>
<polygon points="329.0,301.0 471.0,301.0 469.0,328.0 451.0,338.0 431.0,343.0 405.0,348.0 380.0,346.0 354.0,351.0 347.0,370.0 345.0,400.0 340.0,420.0 344.0,430.0 329.0,430.0" fill="#e04a33"/>
<polygon points="329.0,301.0 350.0,330.0 357.0,360.0 356.0,390.0 350.0,420.0 329.0,420.0" fill="#e04a33"/>
<polygon points="362.0,352.0 380.0,362.0 398.0,385.0 412.0,408.0 418.0,425.0 408.0,428.0 396.0,410.0 382.0,390.0 366.0,372.0" fill="#e8703f"/>
<polygon points="329.0,319.0 340.0,320.0 350.0,314.0 356.0,304.0 362.0,304.0 358.0,318.0 348.0,328.0 335.0,334.0 329.0,334.0" fill="#eb9a55"/>
<polygon points="362.0,304.0 372.0,303.0 377.0,316.0 376.0,328.0 368.0,327.0 364.0,316.0" fill="#cc2a2b"/>
<polygon points="386.0,324.0 398.0,322.0 406.0,330.0 404.0,336.0 390.0,335.0" fill="#cc2a2b"/>
<polygon points="333.0,336.0 350.0,337.0 348.0,344.0 334.0,344.0" fill="#cc2a2b"/>
<polygon points="369.0,367.0 380.0,366.0 386.0,375.0 378.0,380.0 370.0,377.0" fill="#cc2a2b"/>
<polygon points="425.0,384.0 470.0,382.0 503.0,388.0 503.0,451.0 528.0,448.0 554.0,440.0 579.0,430.0 587.0,415.0 600.0,420.0 625.0,420.0 640.0,410.0 645.0,440.0 600.0,470.0 540.0,485.0 505.0,495.0 470.0,500.0 440.0,502.0 420.0,480.0 416.0,440.0 420.0,405.0" fill="#f1df93"/>
<polygon points="474.0,422.0 503.0,422.0 503.0,440.0 474.0,440.0" fill="#ecb86c"/>
<polygon points="505.0,470.0 540.0,455.0 580.0,445.0 612.0,432.0 630.0,420.0 640.0,425.0 620.0,460.0 580.0,470.0 540.0,485.0 510.0,495.0" fill="#f3f4ad"/>
<polygon points="525.0,462.0 560.0,452.0 600.0,440.0 615.0,438.0 610.0,455.0 575.0,465.0 545.0,475.0" fill="#effad5"/>
<polygon points="535.0,455.0 570.0,450.0 590.0,455.0 585.0,465.0 560.0,470.0 540.0,470.0" fill="#e0f4f7"/>
<polygon points="600.0,440.0 612.0,438.0 610.0,446.0 600.0,447.0" fill="#e0f4f7"/>
<polygon points="541.0,459.0 554.0,459.0 554.0,467.0 541.0,467.0" fill="#bde6ee"/>
<polygon points="590.0,370.0 620.0,385.0 640.0,405.0 640.0,420.0 600.0,420.0 588.0,400.0" fill="#f1df93"/>
<polygon points="546.0,384.0 592.0,384.0 592.0,407.0 546.0,407.0" fill="#eb9a55"/>
<polygon points="551.0,387.0 587.0,387.0 587.0,401.0 551.0,401.0" fill="#e8703f"/>
<polygon points="503.0,301.0 528.0,301.0 528.0,325.0 503.0,330.0" fill="#eb9a55"/>
<polygon points="495.0,305.0 510.0,307.0 510.0,322.0 495.0,325.0" fill="#e8703f"/>
<polygon points="515.0,301.0 680.0,301.0 680.0,378.0 610.0,378.0 570.0,368.0 540.0,350.0 520.0,330.0" fill="#f3f4ad"/>
<polygon points="645.0,301.0 680.0,301.0 680.0,315.0 645.0,315.0" fill="#f1df93"/>
<polygon points="528.0,333.0 560.0,352.0 600.0,358.0 610.0,366.0 680.0,372.0 680.0,380.0 600.0,380.0 560.0,372.0 530.0,355.0" fill="#f1df93"/>
<polygon points="528.0,335.0 545.0,348.0 570.0,358.0 605.0,362.0 610.0,368.0 570.0,366.0 540.0,358.0" fill="#ecb86c"/>
<polygon points="541.0,305.0 655.0,305.0 660.0,335.0 640.0,351.0 600.0,351.0 560.0,345.0 545.0,330.0" fill="#effad5"/>
<polygon points="554.0,308.0 620.0,308.0 625.0,345.0 590.0,346.0 560.0,340.0" fill="#e0f4f7"/>
<polygon points="594.0,328.0 615.0,328.0 615.0,341.0 594.0,341.0" fill="#bde6ee"/>
<polygon points="602.0,356.0 612.0,356.0 612.0,364.0 602.0,364.0" fill="#e8703f"/>
<polygon points="380.0,440.0 405.0,440.0 405.0,478.0 382.0,478.0" fill="#eb9a55"/>
<polygon points="329.0,465.0 385.0,468.0 385.0,478.0 329.0,478.0" fill="#eb9a55"/>
<polygon points="329.0,473.0 380.0,473.0 380.0,535.0 329.0,535.0" fill="#e8703f"/>
<polygon points="354.0,499.0 370.0,499.0 370.0,519.0 354.0,519.0" fill="#e04a33"/>
<polygon points="377.0,486.0 413.0,486.0 413.0,535.0 377.0,535.0" fill="#f3f4ad"/>
<polygon points="385.0,500.0 400.0,495.0 405.0,520.0 390.0,525.0" fill="#effad5"/>
<polygon points="436.0,448.0 450.0,455.0 461.0,480.0 461.0,499.0 448.0,499.0 440.0,470.0" fill="#ecb86c"/>
<polygon points="440.0,465.0 452.0,470.0 458.0,492.0 448.0,492.0" fill="#eb9a55"/>
<polygon points="461.0,483.0 505.0,483.0 505.0,502.0 465.0,502.0" fill="#f3f4ad"/>
<polygon points="430.0,516.0 545.0,505.0 545.0,535.0 430.0,535.0" fill="#f1df93"/>
<polygon points="470.0,520.0 500.0,516.0 505.0,530.0 470.0,532.0" fill="#ecb86c"/>
</g></g>
<g clip-path="url(#clipd)"><g transform="translate(0,297.0)">
<path d="M329.3,44.0 L334.9,49.9 L343.4,56.5 L344.7,56.5 L349.3,47.3 L352.6,39.4 L350.5,50.0 L349.5,54.0 L356.5,55.2 L364.4,63.1 L371.0,71.6 L377.6,81.5 L378.7,84.8 L388.4,94.5 L394.8,100.1 L399.6,106.5 L400.4,117.0 L404.4,125.0 L409.2,129.8 L415.7,133.0 L420.5,139.5 L426.9,150.7 L433.3,158.8 L436.0,160.0 L441.1,169.3 L442.8,181.5 L445.4,192.0 L448.1,201.7 L450.7,206.0 L458.6,206.9 L467.3,205.2 L476.1,200.8 L486.6,199.9 L490.0,198.6 L499.6,195.4 L509.3,193.0 L517.3,189.0 L528.5,185.0 L539.8,181.7 L550.2,177.7 L553.4,172.1 L562.3,168.9 L573.5,164.9 L583.1,164.1 L587.2,160.9 L588.0,157.7 L592.8,155.3 L600.0,153.6 L601.9,150.5 L608.5,146.1 L615.0,143.9 L615.8,138.8 L618.0,133.0 L621.6,128.6 L623.1,129.3 L628.2,125.7 L634.0,119.9 L637.7,114.0 L639.9,109.6 L634.0,106.7 L626.7,100.9 L618.0,98.0 L609.2,95.0 L603.4,89.9 L600.4,86.3 L599.7,72.4 L593.0,77.8 L584.9,84.3 L576.9,89.1 L570.5,92.3 L559.2,93.6 L548.0,93.9 L541.6,89.1 L544.0,81.8 L543.2,76.2 L540.8,73.8 L537.6,75.4 L536.0,79.4 L535.1,85.9 L528.7,77.8 L527.1,71.4 L523.9,65.0 L515.9,58.6 L511.1,55.3 L504.6,44.1 L500.6,40.1 L503.8,35.3 L514.3,31.2 L517.5,32.9 L525.5,32.9 L529.5,36.1 L533.5,40.9 L536.8,45.7 L543.2,53.7 L551.2,57.8 L559.2,61.0 L567.3,65.8 L575.3,68.2 L581.7,68.2 L588.1,66.6 L596.2,65.0 L601.0,63.4 L605.5,63.6 L607.7,68.8 L610.7,75.3 L618.0,77.5 L628.2,79.0 L638.4,79.7 L648.6,80.4 L658.8,82.6 L667.6,81.9 L680.0,81.6 L680.0,240.0 L538.0,240.0 L538.5,228.0 L539.4,219.2 L536.6,214.5 L511.6,218.7 L505.0,221.8 L490.1,224.4 L483.1,225.3 L470.8,228.0 L460.3,228.0 L453.3,223.6 L445.4,218.3 L440.2,217.4 L444.6,214.0 L447.2,210.4 L444.6,206.0 L435.8,199.0 L428.8,192.0 L421.8,186.8 L411.3,180.7 L408.7,182.4 L407.8,178.0 L402.5,171.9 L399.9,163.1 L395.5,154.4 L389.4,150.0 L380.3,144.3 L378.7,133.0 L376.3,121.8 L373.1,113.8 L364.3,108.1 L359.5,102.5 L360.3,95.3 L356.2,92.0 L349.3,78.8 L342.1,69.6 L339.5,64.4 L329.3,51.2 L320.0,51.2 L320.0,44.0 Z" fill="#69a7a0" stroke="#111" stroke-width="1.1" stroke-linejoin="round"/>
<path d="M320,0 L353.4,0 L353.2,4.6 C352.3,9.5 349.6,15.5 345,19.5 C340.5,23 334.5,24.2 329.3,23.9 L320,23.9 Z" fill="#69a7a0" stroke="#111" stroke-width="1.1"/>
<ellipse cx="571.5" cy="209.3" rx="6" ry="1.9" fill="#f1d58a" stroke="#111" stroke-width="0.8"/>
<g fill="#ecb86c" stroke="#111" stroke-width="0.8"><path d="M431.2,165 L434.5,164.8 L436,168.8 L433,167.4 Z"/><path d="M410,173 L411.5,176.5 L415.8,178.6 L411,178.2 L409.8,175.5 Z"/><path d="M440.3,179.6 L442.6,181.8 L441.2,182.4 Z"/><ellipse cx="442" cy="193.4" rx="0.7" ry="0.8"/><ellipse cx="442.5" cy="196.8" rx="0.7" ry="0.9"/><path d="M370.5,76.5 L373,75.8 L375.6,79.6 L372.6,80 Z"/><ellipse cx="593" cy="66.3" rx="4" ry="1.1"/><ellipse cx="628" cy="130.2" rx="0.9" ry="2.4" transform="rotate(35 628 130.2)"/><ellipse cx="533" cy="75" rx="0.6" ry="1.4"/></g>
</g></g>
<circle cx="408.4" cy="417.2" r="16.9" fill="none" stroke="#111" stroke-width="1"/>
<circle cx="408.4" cy="417.2" r="2.6" fill="none" stroke="#111" stroke-width="1"/>
<rect x="329.3" y="301.6" width="347.7" height="229.0" fill="none" stroke="#111" stroke-width="1.6"/>
<g stroke="#111" stroke-width="1.2"><line x1="329.6" y1="298.4" x2="329.6" y2="301.6"/>
<line x1="329.6" y1="530.6" x2="329.6" y2="533.8"/>
<line x1="352.7" y1="298.4" x2="352.7" y2="301.6"/>
<line x1="352.7" y1="530.6" x2="352.7" y2="533.8"/>
<line x1="375.8" y1="298.4" x2="375.8" y2="301.6"/>
<line x1="375.8" y1="530.6" x2="375.8" y2="533.8"/>
<line x1="398.9" y1="298.4" x2="398.9" y2="301.6"/>
<line x1="398.9" y1="530.6" x2="398.9" y2="533.8"/>
<line x1="422.0" y1="298.4" x2="422.0" y2="301.6"/>
<line x1="422.0" y1="530.6" x2="422.0" y2="533.8"/>
<line x1="445.2" y1="298.4" x2="445.2" y2="301.6"/>
<line x1="445.2" y1="530.6" x2="445.2" y2="533.8"/>
<line x1="468.3" y1="298.4" x2="468.3" y2="301.6"/>
<line x1="468.3" y1="530.6" x2="468.3" y2="533.8"/>
<line x1="491.4" y1="298.4" x2="491.4" y2="301.6"/>
<line x1="491.4" y1="530.6" x2="491.4" y2="533.8"/>
<line x1="514.5" y1="298.4" x2="514.5" y2="301.6"/>
<line x1="514.5" y1="530.6" x2="514.5" y2="533.8"/>
<line x1="537.6" y1="298.4" x2="537.6" y2="301.6"/>
<line x1="537.6" y1="530.6" x2="537.6" y2="533.8"/>
<line x1="560.7" y1="298.4" x2="560.7" y2="301.6"/>
<line x1="560.7" y1="530.6" x2="560.7" y2="533.8"/>
<line x1="583.8" y1="298.4" x2="583.8" y2="301.6"/>
<line x1="583.8" y1="530.6" x2="583.8" y2="533.8"/>
<line x1="606.9" y1="298.4" x2="606.9" y2="301.6"/>
<line x1="606.9" y1="530.6" x2="606.9" y2="533.8"/>
<line x1="630.0" y1="298.4" x2="630.0" y2="301.6"/>
<line x1="630.0" y1="530.6" x2="630.0" y2="533.8"/>
<line x1="653.1" y1="298.4" x2="653.1" y2="301.6"/>
<line x1="653.1" y1="530.6" x2="653.1" y2="533.8"/>
<line x1="676.2" y1="298.4" x2="676.2" y2="301.6"/>
<line x1="676.2" y1="530.6" x2="676.2" y2="533.8"/>
<line x1="325.90000000000003" y1="312.1" x2="329.3" y2="312.1"/>
<line x1="677.0" y1="312.1" x2="680.4" y2="312.1"/>
<line x1="325.90000000000003" y1="332.0" x2="329.3" y2="332.0"/>
<line x1="677.0" y1="332.0" x2="680.4" y2="332.0"/>
<line x1="325.90000000000003" y1="351.8" x2="329.3" y2="351.8"/>
<line x1="677.0" y1="351.8" x2="680.4" y2="351.8"/>
<line x1="325.90000000000003" y1="371.7" x2="329.3" y2="371.7"/>
<line x1="677.0" y1="371.7" x2="680.4" y2="371.7"/>
<line x1="325.90000000000003" y1="391.5" x2="329.3" y2="391.5"/>
<line x1="677.0" y1="391.5" x2="680.4" y2="391.5"/>
<line x1="325.90000000000003" y1="411.4" x2="329.3" y2="411.4"/>
<line x1="677.0" y1="411.4" x2="680.4" y2="411.4"/>
<line x1="325.90000000000003" y1="431.2" x2="329.3" y2="431.2"/>
<line x1="677.0" y1="431.2" x2="680.4" y2="431.2"/>
<line x1="325.90000000000003" y1="451.1" x2="329.3" y2="451.1"/>
<line x1="677.0" y1="451.1" x2="680.4" y2="451.1"/>
<line x1="325.90000000000003" y1="470.9" x2="329.3" y2="470.9"/>
<line x1="677.0" y1="470.9" x2="680.4" y2="470.9"/>
<line x1="325.90000000000003" y1="490.8" x2="329.3" y2="490.8"/>
<line x1="677.0" y1="490.8" x2="680.4" y2="490.8"/>
<line x1="325.90000000000003" y1="510.6" x2="329.3" y2="510.6"/>
<line x1="677.0" y1="510.6" x2="680.4" y2="510.6"/></g>
<g stroke="#111" stroke-width="0.85" fill="none">
<circle cx="653.7" cy="504.2" r="13.9" stroke-dasharray="18.83 3" stroke-dashoffset="20.33"/>
<polygon points="653.7,488.8 655.7,499.3 660.5,497.4 658.6,502.2 669.1,504.2 658.6,506.2 660.5,511.0 655.7,509.1 653.7,519.6 651.7,509.1 646.9,511.0 648.8,506.2 638.3,504.2 648.8,502.2 646.9,497.4 651.7,499.3" stroke-linejoin="miter"/>
<circle cx="653.7" cy="504.2" r="2.4"/>
</g>
<text x="653.7" y="485.59999999999997" font-size="14.3" text-anchor="middle" fill="#111">N</text>
<text x="308.4" y="316.20000000000005" font-size="20.5" font-weight="bold" fill="#000">d</text>
<line x1="267.3" y1="120.3" x2="405.8" y2="120.3" stroke="#3a3a3a" stroke-width="1.2" stroke-dasharray="6.4 2.95"/>
<line x1="267.3" y1="417.3" x2="405.8" y2="417.3" stroke="#3a3a3a" stroke-width="1.2" stroke-dasharray="6.4 2.95"/>
<rect x="332.50" y="238.9" width="24.69" height="20.299999999999983" fill="#f6fbd3"/>
<rect x="356.89" y="238.9" width="24.69" height="20.299999999999983" fill="#eff3b0"/>
<rect x="381.29" y="238.9" width="24.69" height="20.299999999999983" fill="#eee594"/>
<rect x="405.68" y="238.9" width="24.69" height="20.299999999999983" fill="#eadb7c"/>
<rect x="430.07" y="238.9" width="24.69" height="20.299999999999983" fill="#ebc566"/>
<rect x="454.46" y="238.9" width="24.69" height="20.299999999999983" fill="#ebad57"/>
<rect x="478.86" y="238.9" width="24.69" height="20.299999999999983" fill="#ec9449"/>
<rect x="503.25" y="238.9" width="24.69" height="20.299999999999983" fill="#ee7a3e"/>
<rect x="527.64" y="238.9" width="24.69" height="20.299999999999983" fill="#f0552e"/>
<rect x="552.04" y="238.9" width="24.69" height="20.299999999999983" fill="#ec3626"/>
<rect x="576.43" y="238.9" width="24.69" height="20.299999999999983" fill="#dd2a26"/>
<rect x="600.82" y="238.9" width="24.69" height="20.299999999999983" fill="#c8282a"/>
<rect x="625.21" y="238.9" width="24.69" height="20.299999999999983" fill="#a61f2f"/>
<rect x="649.61" y="238.9" width="24.69" height="20.299999999999983" fill="#7e1529"/>
<rect x="332.5" y="238.9" width="341.5" height="20.299999999999983" fill="none" stroke="#888" stroke-width="1"/>
<text x="329.5" y="256.4" font-size="21" text-anchor="end" fill="#111">°C</text>
<line x1="332.5" y1="265.5" x2="674" y2="265.5" stroke="#222" stroke-width="1.1"/>
<line x1="332.50" y1="265" x2="332.50" y2="273.4" stroke="#222" stroke-width="1"/>
<text x="332.50" y="292.8" font-size="17.5" text-anchor="middle" fill="#111">15</text>
<line x1="356.89" y1="265" x2="356.89" y2="273.4" stroke="#222" stroke-width="1"/>
<line x1="381.29" y1="265" x2="381.29" y2="273.4" stroke="#222" stroke-width="1"/>
<text x="381.29" y="292.8" font-size="17.5" text-anchor="middle" fill="#111">20</text>
<line x1="405.68" y1="265" x2="405.68" y2="273.4" stroke="#222" stroke-width="1"/>
<line x1="430.07" y1="265" x2="430.07" y2="273.4" stroke="#222" stroke-width="1"/>
<text x="430.07" y="292.8" font-size="17.5" text-anchor="middle" fill="#111">25</text>
<line x1="454.46" y1="265" x2="454.46" y2="273.4" stroke="#222" stroke-width="1"/>
<line x1="478.86" y1="265" x2="478.86" y2="273.4" stroke="#222" stroke-width="1"/>
<text x="478.86" y="292.8" font-size="17.5" text-anchor="middle" fill="#111">30</text>
<line x1="503.25" y1="265" x2="503.25" y2="273.4" stroke="#222" stroke-width="1"/>
<line x1="527.64" y1="265" x2="527.64" y2="273.4" stroke="#222" stroke-width="1"/>
<text x="527.64" y="292.8" font-size="17.5" text-anchor="middle" fill="#111">35</text>
<line x1="552.04" y1="265" x2="552.04" y2="273.4" stroke="#222" stroke-width="1"/>
<line x1="576.43" y1="265" x2="576.43" y2="273.4" stroke="#222" stroke-width="1"/>
<text x="576.43" y="292.8" font-size="17.5" text-anchor="middle" fill="#111">40</text>
<line x1="600.82" y1="265" x2="600.82" y2="273.4" stroke="#222" stroke-width="1"/>
<line x1="625.21" y1="265" x2="625.21" y2="273.4" stroke="#222" stroke-width="1"/>
<text x="625.21" y="292.8" font-size="17.5" text-anchor="middle" fill="#111">45</text>
<line x1="649.61" y1="265" x2="649.61" y2="273.4" stroke="#222" stroke-width="1"/>
<line x1="674.00" y1="265" x2="674.00" y2="273.4" stroke="#222" stroke-width="1"/>
<text x="674.00" y="292.8" font-size="17.5" text-anchor="middle" fill="#111">50</text>
<rect x="332.50" y="535.6" width="31.35" height="20.699999999999932" fill="#bde6ee"/>
<rect x="363.55" y="535.6" width="31.35" height="20.699999999999932" fill="#e0f4f7"/>
<rect x="394.59" y="535.6" width="31.35" height="20.699999999999932" fill="#effad5"/>
<rect x="425.64" y="535.6" width="31.35" height="20.699999999999932" fill="#f3f4ad"/>
<rect x="456.68" y="535.6" width="31.35" height="20.699999999999932" fill="#f1df93"/>
<rect x="487.73" y="535.6" width="31.35" height="20.699999999999932" fill="#ecb86c"/>
<rect x="518.77" y="535.6" width="31.35" height="20.699999999999932" fill="#eb9a55"/>
<rect x="549.82" y="535.6" width="31.35" height="20.699999999999932" fill="#e8703f"/>
<rect x="580.86" y="535.6" width="31.35" height="20.699999999999932" fill="#e04a33"/>
<rect x="611.91" y="535.6" width="31.35" height="20.699999999999932" fill="#cc2a2b"/>
<rect x="642.95" y="535.6" width="31.35" height="20.699999999999932" fill="#a81d2c"/>
<rect x="332.5" y="535.6" width="341.5" height="20.699999999999932" fill="none" stroke="#888" stroke-width="1"/>
<text x="329.5" y="554.9" font-size="21" text-anchor="end" fill="#111">°C</text>
<line x1="332.5" y1="562.5" x2="674" y2="562.5" stroke="#222" stroke-width="1.1"/>
<line x1="332.50" y1="562" x2="332.50" y2="570" stroke="#222" stroke-width="1"/>
<text x="332.50" y="590" font-size="17.5" text-anchor="middle" fill="#111">-3</text>
<line x1="363.55" y1="562" x2="363.55" y2="570" stroke="#222" stroke-width="1"/>
<text x="363.55" y="590" font-size="17.5" text-anchor="middle" fill="#111">-2</text>
<line x1="394.59" y1="562" x2="394.59" y2="570" stroke="#222" stroke-width="1"/>
<text x="394.59" y="590" font-size="17.5" text-anchor="middle" fill="#111">-1</text>
<line x1="425.64" y1="562" x2="425.64" y2="570" stroke="#222" stroke-width="1"/>
<text x="425.64" y="590" font-size="17.5" text-anchor="middle" fill="#111">0</text>
<line x1="456.68" y1="562" x2="456.68" y2="570" stroke="#222" stroke-width="1"/>
<text x="456.68" y="590" font-size="17.5" text-anchor="middle" fill="#111">1</text>
<line x1="487.73" y1="562" x2="487.73" y2="570" stroke="#222" stroke-width="1"/>
<text x="487.73" y="590" font-size="17.5" text-anchor="middle" fill="#111">2</text>
<line x1="518.77" y1="562" x2="518.77" y2="570" stroke="#222" stroke-width="1"/>
<text x="518.77" y="590" font-size="17.5" text-anchor="middle" fill="#111">3</text>
<line x1="549.82" y1="562" x2="549.82" y2="570" stroke="#222" stroke-width="1"/>
<text x="549.82" y="590" font-size="17.5" text-anchor="middle" fill="#111">4</text>
<line x1="580.86" y1="562" x2="580.86" y2="570" stroke="#222" stroke-width="1"/>
<text x="580.86" y="590" font-size="17.5" text-anchor="middle" fill="#111">5</text>
<line x1="611.91" y1="562" x2="611.91" y2="570" stroke="#222" stroke-width="1"/>
<text x="611.91" y="590" font-size="17.5" text-anchor="middle" fill="#111">6</text>
<line x1="642.95" y1="562" x2="642.95" y2="570" stroke="#222" stroke-width="1"/>
<text x="642.95" y="590" font-size="17.5" text-anchor="middle" fill="#111">7</text>
<line x1="674.00" y1="562" x2="674.00" y2="570" stroke="#222" stroke-width="1"/>
<text x="674.00" y="590" font-size="17.5" text-anchor="middle" fill="#111">8</text>
<rect x="59.4" y="624.5" width="619.8000000000001" height="48.69" fill="#fa4616"/>
<rect x="59.4" y="673.19" width="619.8000000000001" height="54.78" fill="#eba22d"/>
<rect x="59.4" y="727.97" width="619.8000000000001" height="91.30" fill="#f2df90"/>
<rect x="59.4" y="819.27" width="619.8000000000001" height="20.63" fill="#68a69f"/>
<line x1="59.4" y1="673.19" x2="679.2" y2="673.19" stroke="#333" stroke-opacity="0.6" stroke-width="0.8"/>
<line x1="59.4" y1="727.97" x2="679.2" y2="727.97" stroke="#333" stroke-opacity="0.6" stroke-width="0.8"/>
<line x1="59.4" y1="819.27" x2="679.2" y2="819.27" stroke="#333" stroke-opacity="0.6" stroke-width="0.8"/>
<line x1="82.10" y1="624.5" x2="82.10" y2="839.9" stroke="#222" stroke-width="1.2" stroke-dasharray="5.4 4.5" stroke-dashoffset="5.5"/>
<line x1="164.55" y1="624.5" x2="164.55" y2="839.9" stroke="#222" stroke-width="1.2" stroke-dasharray="5.4 4.5" stroke-dashoffset="5.5"/>
<line x1="247.00" y1="624.5" x2="247.00" y2="839.9" stroke="#222" stroke-width="1.2" stroke-dasharray="5.4 4.5" stroke-dashoffset="5.5"/>
<line x1="329.45" y1="624.5" x2="329.45" y2="839.9" stroke="#222" stroke-width="1.2" stroke-dasharray="5.4 4.5" stroke-dashoffset="5.5"/>
<line x1="411.90" y1="624.5" x2="411.90" y2="839.9" stroke="#222" stroke-width="1.2" stroke-dasharray="5.4 4.5" stroke-dashoffset="5.5"/>
<line x1="494.35" y1="624.5" x2="494.35" y2="839.9" stroke="#222" stroke-width="1.2" stroke-dasharray="5.4 4.5" stroke-dashoffset="5.5"/>
<line x1="576.80" y1="624.5" x2="576.80" y2="839.9" stroke="#222" stroke-width="1.2" stroke-dasharray="5.4 4.5" stroke-dashoffset="5.5"/>
<line x1="659.25" y1="624.5" x2="659.25" y2="839.9" stroke="#222" stroke-width="1.2" stroke-dasharray="5.4 4.5" stroke-dashoffset="5.5"/>
<text x="120.0" y="836.7" font-size="17.4" text-anchor="middle" fill="#111">14/6</text>
<text x="202.4" y="836.7" font-size="17.4" text-anchor="middle" fill="#111">15/6</text>
<text x="284.9" y="836.7" font-size="17.4" text-anchor="middle" fill="#111">16/6</text>
<text x="367.4" y="836.7" font-size="17.4" text-anchor="middle" fill="#111">17/6</text>
<text x="449.8" y="836.7" font-size="17.4" text-anchor="middle" fill="#111">18/6</text>
<text x="532.2" y="836.7" font-size="17.4" text-anchor="middle" fill="#111">19/6</text>
<text x="614.7" y="836.7" font-size="17.4" text-anchor="middle" fill="#111">20/6</text>
<g fill="none" stroke="#111" stroke-width="1.15">
<circle cx="82.10" cy="742.6" r="3.3"/>
<circle cx="85.54" cy="747.7" r="3.3"/>
<circle cx="88.97" cy="758.0" r="3.3"/>
<circle cx="92.41" cy="764.0" r="3.3"/>
<circle cx="95.84" cy="755.0" r="3.3"/>
<circle cx="99.28" cy="737.5" r="3.3"/>
<circle cx="102.71" cy="719.2" r="3.3"/>
<circle cx="106.15" cy="699.8" r="3.3"/>
<circle cx="109.58" cy="689.1" r="3.3"/>
<circle cx="113.02" cy="683.2" r="3.3"/>
<circle cx="116.45" cy="680.0" r="3.3"/>
<circle cx="119.89" cy="687.6" r="3.3"/>
<circle cx="123.32" cy="701.9" r="3.3"/>
<circle cx="126.76" cy="699.1" r="3.3"/>
<circle cx="130.20" cy="699.5" r="3.3"/>
<circle cx="133.63" cy="707.2" r="3.3"/>
<circle cx="137.07" cy="718.8" r="3.3"/>
<circle cx="140.50" cy="726.9" r="3.3"/>
<circle cx="143.94" cy="729.4" r="3.3"/>
<circle cx="147.37" cy="725.5" r="3.3"/>
<circle cx="150.81" cy="741.7" r="3.3"/>
<circle cx="154.24" cy="750.2" r="3.3"/>
<circle cx="157.68" cy="752.9" r="3.3"/>
<circle cx="161.11" cy="757.5" r="3.3"/>
<circle cx="164.55" cy="762.9" r="3.3"/>
<circle cx="167.99" cy="768.1" r="3.3"/>
<circle cx="171.42" cy="773.7" r="3.3"/>
<circle cx="174.86" cy="779.2" r="3.3"/>
<circle cx="178.29" cy="778.8" r="3.3"/>
<circle cx="181.73" cy="751.5" r="3.3"/>
<circle cx="185.16" cy="740.9" r="3.3"/>
<circle cx="188.60" cy="719.2" r="3.3"/>
<circle cx="192.03" cy="710.2" r="3.3"/>
<circle cx="195.47" cy="703.7" r="3.3"/>
<circle cx="198.90" cy="697.7" r="3.3"/>
<circle cx="202.34" cy="696.4" r="3.3"/>
<circle cx="205.78" cy="699.4" r="3.3"/>
<circle cx="209.21" cy="706.1" r="3.3"/>
<circle cx="212.65" cy="715.8" r="3.3"/>
<circle cx="216.08" cy="726.6" r="3.3"/>
<circle cx="219.52" cy="736.4" r="3.3"/>
<circle cx="222.95" cy="744.6" r="3.3"/>
<circle cx="226.39" cy="750.2" r="3.3"/>
<circle cx="229.82" cy="760.5" r="3.3"/>
<circle cx="233.26" cy="768.6" r="3.3"/>
<circle cx="236.69" cy="774.1" r="3.3"/>
<circle cx="240.13" cy="774.1" r="3.3"/>
<circle cx="243.56" cy="775.8" r="3.3"/>
<circle cx="247.00" cy="781.3" r="3.3"/>
<circle cx="250.44" cy="786.2" r="3.3"/>
<circle cx="253.87" cy="792.1" r="3.3"/>
<circle cx="257.31" cy="797.3" r="3.3"/>
<circle cx="260.74" cy="794.5" r="3.3"/>
<circle cx="264.18" cy="781.6" r="3.3"/>
<circle cx="267.61" cy="751.3" r="3.3"/>
<circle cx="271.05" cy="730.5" r="3.3"/>
<circle cx="274.48" cy="717.2" r="3.3"/>
<circle cx="277.92" cy="705.4" r="3.3"/>
<circle cx="281.35" cy="698.2" r="3.3"/>
<circle cx="284.79" cy="697.5" r="3.3"/>
<circle cx="288.23" cy="702.6" r="3.3"/>
<circle cx="291.66" cy="710.2" r="3.3"/>
<circle cx="295.10" cy="716.5" r="3.3"/>
<circle cx="298.53" cy="722.7" r="3.3"/>
<circle cx="301.97" cy="729.6" r="3.3"/>
<circle cx="305.40" cy="735.2" r="3.3"/>
<circle cx="308.84" cy="738.7" r="3.3"/>
<circle cx="312.27" cy="744.9" r="3.3"/>
<circle cx="315.71" cy="753.2" r="3.3"/>
<circle cx="319.14" cy="756.8" r="3.3"/>
<circle cx="322.58" cy="754.1" r="3.3"/>
<circle cx="326.01" cy="754.3" r="3.3"/>
<circle cx="329.45" cy="758.4" r="3.3"/>
<circle cx="332.89" cy="777.2" r="3.3"/>
<circle cx="336.32" cy="786.2" r="3.3"/>
<circle cx="339.76" cy="784.8" r="3.3"/>
<circle cx="343.19" cy="782.0" r="3.3"/>
<circle cx="346.63" cy="763.3" r="3.3"/>
<circle cx="350.06" cy="735.7" r="3.3"/>
<circle cx="353.50" cy="718.4" r="3.3"/>
<circle cx="356.93" cy="700.8" r="3.3"/>
<circle cx="360.37" cy="683.4" r="3.3"/>
<circle cx="363.80" cy="669.3" r="3.3"/>
<circle cx="367.24" cy="662.2" r="3.3"/>
<circle cx="370.68" cy="663.6" r="3.3"/>
<circle cx="374.11" cy="671.9" r="3.3"/>
<circle cx="377.55" cy="682.7" r="3.3"/>
<circle cx="380.98" cy="693.4" r="3.3"/>
<circle cx="384.42" cy="700.4" r="3.3"/>
<circle cx="387.85" cy="702.9" r="3.3"/>
<circle cx="391.29" cy="703.8" r="3.3"/>
<circle cx="394.72" cy="714.4" r="3.3"/>
<circle cx="398.16" cy="723.0" r="3.3"/>
<circle cx="401.59" cy="732.6" r="3.3"/>
<circle cx="405.03" cy="740.3" r="3.3"/>
<circle cx="408.46" cy="751.5" r="3.3"/>
<circle cx="411.90" cy="757.7" r="3.3"/>
<circle cx="415.34" cy="758.4" r="3.3"/>
<circle cx="418.77" cy="761.2" r="3.3"/>
<circle cx="422.21" cy="769.3" r="3.3"/>
<circle cx="425.64" cy="778.8" r="3.3"/>
<circle cx="429.08" cy="740.5" r="3.3"/>
<circle cx="432.51" cy="715.6" r="3.3"/>
<circle cx="435.95" cy="697.3" r="3.3"/>
<circle cx="439.38" cy="680.4" r="3.3"/>
<circle cx="442.82" cy="671.0" r="3.3"/>
<circle cx="446.25" cy="664.0" r="3.3"/>
<circle cx="449.69" cy="659.2" r="3.3"/>
<circle cx="453.12" cy="657.1" r="3.3"/>
<circle cx="456.56" cy="657.8" r="3.3"/>
<circle cx="460.00" cy="664.0" r="3.3"/>
<circle cx="463.43" cy="672.8" r="3.3"/>
<circle cx="466.87" cy="681.6" r="3.3"/>
<circle cx="470.30" cy="689.0" r="3.3"/>
<circle cx="473.74" cy="693.8" r="3.3"/>
<circle cx="477.17" cy="698.7" r="3.3"/>
<circle cx="480.61" cy="704.2" r="3.3"/>
<circle cx="484.04" cy="708.4" r="3.3"/>
<circle cx="487.48" cy="709.5" r="3.3"/>
<circle cx="490.91" cy="713.9" r="3.3"/>
<circle cx="494.35" cy="719.5" r="3.3"/>
<circle cx="497.79" cy="725.0" r="3.3"/>
<circle cx="501.22" cy="740.3" r="3.3"/>
<circle cx="504.66" cy="748.0" r="3.3"/>
<circle cx="508.09" cy="740.0" r="3.3"/>
<circle cx="511.53" cy="720.2" r="3.3"/>
<circle cx="514.96" cy="704.2" r="3.3"/>
<circle cx="518.40" cy="691.3" r="3.3"/>
<circle cx="521.83" cy="682.7" r="3.3"/>
<circle cx="525.27" cy="682.7" r="3.3"/>
<circle cx="528.70" cy="681.4" r="3.3"/>
<circle cx="532.14" cy="682.0" r="3.3"/>
<circle cx="535.58" cy="688.0" r="3.3"/>
<circle cx="539.01" cy="694.5" r="3.3"/>
<circle cx="542.45" cy="699.4" r="3.3"/>
<circle cx="545.88" cy="704.2" r="3.3"/>
<circle cx="549.32" cy="709.1" r="3.3"/>
<circle cx="552.75" cy="713.3" r="3.3"/>
<circle cx="556.19" cy="717.4" r="3.3"/>
<circle cx="559.62" cy="726.4" r="3.3"/>
<circle cx="563.06" cy="737.5" r="3.3"/>
<circle cx="566.49" cy="750.1" r="3.3"/>
<circle cx="569.93" cy="761.9" r="3.3"/>
<circle cx="573.36" cy="768.1" r="3.3"/>
<circle cx="576.80" cy="761.0" r="3.3"/>
<circle cx="580.24" cy="761.7" r="3.3"/>
<circle cx="583.67" cy="783.6" r="3.3"/>
<circle cx="587.11" cy="784.4" r="3.3"/>
<circle cx="590.54" cy="767.6" r="3.3"/>
<circle cx="593.98" cy="741.4" r="3.3"/>
<circle cx="597.41" cy="715.3" r="3.3"/>
<circle cx="600.85" cy="680.2" r="3.3"/>
<circle cx="604.28" cy="664.8" r="3.3"/>
<circle cx="607.72" cy="656.5" r="3.3"/>
<circle cx="611.15" cy="654.4" r="3.3"/>
<circle cx="614.59" cy="652.6" r="3.3"/>
<circle cx="618.03" cy="655.0" r="3.3"/>
<circle cx="621.46" cy="663.0" r="3.3"/>
<circle cx="624.90" cy="673.1" r="3.3"/>
<circle cx="628.33" cy="681.6" r="3.3"/>
<circle cx="631.77" cy="688.3" r="3.3"/>
<circle cx="635.20" cy="691.3" r="3.3"/>
<circle cx="638.64" cy="693.1" r="3.3"/>
<circle cx="642.07" cy="700.1" r="3.3"/>
<circle cx="645.51" cy="708.0" r="3.3"/>
<circle cx="648.94" cy="715.3" r="3.3"/>
<circle cx="652.38" cy="720.2" r="3.3"/>
<circle cx="655.81" cy="723.0" r="3.3"/>
</g>
<g fill="none" stroke="#111" stroke-width="1">
<circle cx="123.30" cy="723.8" r="9.5"/>
<line x1="113.80" y1="723.8" x2="132.80" y2="723.8"/><line x1="123.30" y1="714.3" x2="123.30" y2="733.3"/>
<line x1="113.80" y1="775.1" x2="132.80" y2="775.1"/><line x1="123.30" y1="765.8000000000001" x2="123.30" y2="784.4"/>
<circle cx="205.75" cy="742.3" r="9.5"/>
<line x1="196.25" y1="742.3" x2="215.25" y2="742.3"/><line x1="205.75" y1="732.8" x2="205.75" y2="751.8"/>
<line x1="196.25" y1="780.2" x2="215.25" y2="780.2"/><line x1="205.75" y1="770.9000000000001" x2="205.75" y2="789.5"/>
<circle cx="288.20" cy="743.7" r="9.5"/>
<line x1="278.70" y1="743.7" x2="297.70" y2="743.7"/><line x1="288.20" y1="734.2" x2="288.20" y2="753.2"/>
<line x1="278.70" y1="779.5" x2="297.70" y2="779.5"/><line x1="288.20" y1="770.2" x2="288.20" y2="788.8"/>
<circle cx="370.65" cy="720.9" r="9.5"/>
<line x1="361.15" y1="720.9" x2="380.15" y2="720.9"/><line x1="370.65" y1="711.4" x2="370.65" y2="730.4"/>
<line x1="361.15" y1="764" x2="380.15" y2="764"/><line x1="370.65" y1="754.7" x2="370.65" y2="773.3"/>
<circle cx="453.10" cy="704.2" r="9.5"/>
<line x1="443.60" y1="704.2" x2="462.60" y2="704.2"/><line x1="453.10" y1="694.7" x2="453.10" y2="713.7"/>
<line x1="443.60" y1="763.3" x2="462.60" y2="763.3"/><line x1="453.10" y1="754.0" x2="453.10" y2="772.5999999999999"/>
<circle cx="535.55" cy="716" r="9.5"/>
<line x1="526.05" y1="716" x2="545.05" y2="716"/><line x1="535.55" y1="706.5" x2="535.55" y2="725.5"/>
<line x1="526.05" y1="774.1" x2="545.05" y2="774.1"/><line x1="535.55" y1="764.8000000000001" x2="535.55" y2="783.4"/>
<circle cx="618.00" cy="705.6" r="9.5"/>
<line x1="608.50" y1="705.6" x2="627.50" y2="705.6"/><line x1="618.00" y1="696.1" x2="618.00" y2="715.1"/>
<line x1="608.50" y1="766" x2="627.50" y2="766"/><line x1="618.00" y1="756.7" x2="618.00" y2="775.3"/>
</g>
<rect x="59.4" y="624.5" width="619.8000000000001" height="215.39999999999998" fill="none" stroke="#111" stroke-width="1.4"/>
<line x1="50.5" y1="832.96" x2="59.4" y2="832.96" stroke="#333" stroke-width="1"/>
<text x="47.3" y="840.36" font-size="18.6" text-anchor="end" fill="#111">28</text>
<line x1="50.5" y1="814.70" x2="59.4" y2="814.70" stroke="#333" stroke-width="1"/>
<text x="47.3" y="822.10" font-size="18.6" text-anchor="end" fill="#111">30</text>
<line x1="50.5" y1="796.44" x2="59.4" y2="796.44" stroke="#333" stroke-width="1"/>
<text x="47.3" y="803.84" font-size="18.6" text-anchor="end" fill="#111">32</text>
<line x1="50.5" y1="778.18" x2="59.4" y2="778.18" stroke="#333" stroke-width="1"/>
<text x="47.3" y="785.58" font-size="18.6" text-anchor="end" fill="#111">34</text>
<line x1="50.5" y1="759.92" x2="59.4" y2="759.92" stroke="#333" stroke-width="1"/>
<text x="47.3" y="767.32" font-size="18.6" text-anchor="end" fill="#111">36</text>
<line x1="50.5" y1="741.66" x2="59.4" y2="741.66" stroke="#333" stroke-width="1"/>
<text x="47.3" y="749.06" font-size="18.6" text-anchor="end" fill="#111">38</text>
<line x1="50.5" y1="723.40" x2="59.4" y2="723.40" stroke="#333" stroke-width="1"/>
<text x="47.3" y="730.80" font-size="18.6" text-anchor="end" fill="#111">40</text>
<line x1="50.5" y1="705.14" x2="59.4" y2="705.14" stroke="#333" stroke-width="1"/>
<text x="47.3" y="712.54" font-size="18.6" text-anchor="end" fill="#111">42</text>
<line x1="50.5" y1="686.88" x2="59.4" y2="686.88" stroke="#333" stroke-width="1"/>
<text x="47.3" y="694.28" font-size="18.6" text-anchor="end" fill="#111">44</text>
<line x1="50.5" y1="668.62" x2="59.4" y2="668.62" stroke="#333" stroke-width="1"/>
<text x="47.3" y="676.02" font-size="18.6" text-anchor="end" fill="#111">46</text>
<line x1="50.5" y1="650.36" x2="59.4" y2="650.36" stroke="#333" stroke-width="1"/>
<text x="47.3" y="657.76" font-size="18.6" text-anchor="end" fill="#111">48</text>
<line x1="50.5" y1="632.10" x2="59.4" y2="632.10" stroke="#333" stroke-width="1"/>
<text x="47.3" y="639.50" font-size="18.6" text-anchor="end" fill="#111">50</text>
<line x1="59.4" y1="823.83" x2="64.9" y2="823.83" stroke="#333" stroke-width="1"/>
<line x1="59.4" y1="805.57" x2="64.9" y2="805.57" stroke="#333" stroke-width="1"/>
<line x1="59.4" y1="787.31" x2="64.9" y2="787.31" stroke="#333" stroke-width="1"/>
<line x1="59.4" y1="769.05" x2="64.9" y2="769.05" stroke="#333" stroke-width="1"/>
<line x1="59.4" y1="750.79" x2="64.9" y2="750.79" stroke="#333" stroke-width="1"/>
<line x1="59.4" y1="732.53" x2="64.9" y2="732.53" stroke="#333" stroke-width="1"/>
<line x1="59.4" y1="714.27" x2="64.9" y2="714.27" stroke="#333" stroke-width="1"/>
<line x1="59.4" y1="696.01" x2="64.9" y2="696.01" stroke="#333" stroke-width="1"/>
<line x1="59.4" y1="677.75" x2="64.9" y2="677.75" stroke="#333" stroke-width="1"/>
<line x1="59.4" y1="659.49" x2="64.9" y2="659.49" stroke="#333" stroke-width="1"/>
<line x1="59.4" y1="641.23" x2="64.9" y2="641.23" stroke="#333" stroke-width="1"/>
<line x1="82.10" y1="839.9" x2="82.10" y2="848.4" stroke="#333" stroke-width="1"/>
<text x="81.80" y="862.2" font-size="16.3" text-anchor="middle" fill="#111">00:00</text>
<line x1="164.55" y1="839.9" x2="164.55" y2="848.4" stroke="#333" stroke-width="1"/>
<text x="164.25" y="862.2" font-size="16.3" text-anchor="middle" fill="#111">00:00</text>
<line x1="247.00" y1="839.9" x2="247.00" y2="848.4" stroke="#333" stroke-width="1"/>
<text x="246.70" y="862.2" font-size="16.3" text-anchor="middle" fill="#111">00:00</text>
<line x1="329.45" y1="839.9" x2="329.45" y2="848.4" stroke="#333" stroke-width="1"/>
<text x="329.15" y="862.2" font-size="16.3" text-anchor="middle" fill="#111">00:00</text>
<line x1="411.90" y1="839.9" x2="411.90" y2="848.4" stroke="#333" stroke-width="1"/>
<text x="411.60" y="862.2" font-size="16.3" text-anchor="middle" fill="#111">00:00</text>
<line x1="494.35" y1="839.9" x2="494.35" y2="848.4" stroke="#333" stroke-width="1"/>
<text x="494.05" y="862.2" font-size="16.3" text-anchor="middle" fill="#111">00:00</text>
<line x1="576.80" y1="839.9" x2="576.80" y2="848.4" stroke="#333" stroke-width="1"/>
<text x="576.50" y="862.2" font-size="16.3" text-anchor="middle" fill="#111">00:00</text>
<line x1="659.25" y1="839.9" x2="659.25" y2="848.4" stroke="#333" stroke-width="1"/>
<text x="658.95" y="862.2" font-size="16.3" text-anchor="middle" fill="#111">00:00</text>
<text transform="translate(16.7,732.5) rotate(-90)" font-size="20" text-anchor="middle" textLength="130.5" lengthAdjust="spacingAndGlyphs" fill="#111">Humidex (°C)</text>
<text x="30.5" y="604.3" font-size="20" font-weight="bold" fill="#000">e</text>
<g stroke="#333" stroke-width="1" fill="none"><line x1="68.2" y1="612.3" x2="82.6" y2="612.3"/><line x1="75.4" y1="605.6" x2="75.4" y2="619"/><circle cx="304.4" cy="612.3" r="7"/><circle cx="534.2" cy="612" r="7.3"/><line x1="526.9" y1="612" x2="541.5" y2="612"/><line x1="534.2" y1="604.7" x2="534.2" y2="619.3"/></g>
<text x="98.2" y="618.8" font-size="17.6" textLength="113.2" lengthAdjust="spacingAndGlyphs" fill="#111">Daily Humidex</text>
<text x="326.6" y="618.8" font-size="17.6" textLength="126.8" lengthAdjust="spacingAndGlyphs" fill="#111">Hourly Humidex</text>
<text x="556.2" y="618.8" font-size="17.6" textLength="115.8" lengthAdjust="spacingAndGlyphs" fill="#111">Hourly to Daily</text>
<rect x="40.6" y="883.3" width="21.8" height="21.2" fill="#68a69f" stroke="#222" stroke-width="1.2"/>
<rect x="198.6" y="883.3" width="21.8" height="21.2" fill="#f2df90" stroke="#222" stroke-width="1.2"/>
<rect x="356.4" y="883.3" width="21.8" height="21.2" fill="#eba22d" stroke="#222" stroke-width="1.2"/>
<rect x="551" y="883.3" width="21.8" height="21.2" fill="#fa4616" stroke="#222" stroke-width="1.2"/>
<text x="68.6" y="891.8" textLength="88.9" font-size="18" fill="#111" lengthAdjust="spacingAndGlyphs">Little to no</text><text x="68.6" y="908.4" textLength="92" font-size="18" fill="#111" lengthAdjust="spacingAndGlyphs">discomfort</text>
<text x="231.3" y="891.8" textLength="49.1" font-size="18" fill="#111" lengthAdjust="spacingAndGlyphs">Some</text><text x="231.3" y="908.4" textLength="92.5" font-size="18" fill="#111" lengthAdjust="spacingAndGlyphs">discomfort</text>
<text x="387.8" y="891.8" textLength="150.2" font-size="18" fill="#111" lengthAdjust="spacingAndGlyphs">Great discomfort:</text><text x="387.8" y="908.4" textLength="117.5" font-size="18" fill="#111" lengthAdjust="spacingAndGlyphs">avoid exertion</text>
<text x="581.4" y="891.8" textLength="91.6" font-size="18" fill="#111" lengthAdjust="spacingAndGlyphs">Dangerous</text><text x="581.4" y="908.4" textLength="89.1" font-size="18" fill="#111" lengthAdjust="spacingAndGlyphs">conditions</text>
</svg></body></html>
